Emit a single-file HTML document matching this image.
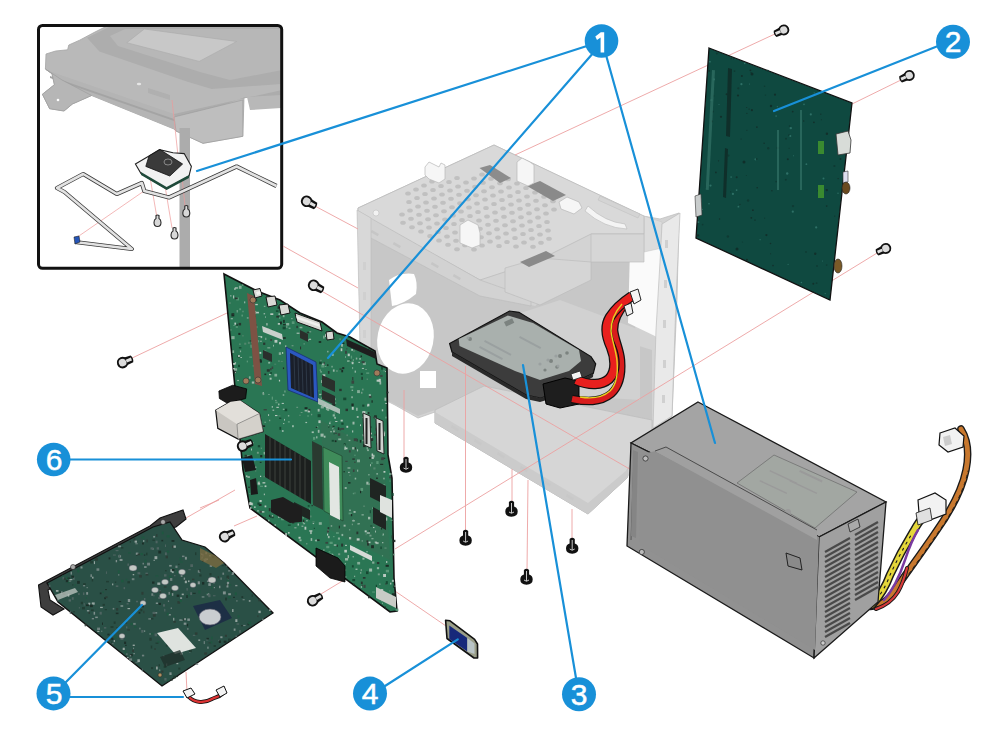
<!DOCTYPE html>
<html><head><meta charset="utf-8">
<style>
html,body{margin:0;padding:0;background:#fff;width:1002px;height:749px;overflow:hidden}
svg{display:block}
.num{font-family:"Liberation Sans",sans-serif;font-size:30px;fill:#fff;stroke:#fff;stroke-width:0.5;text-anchor:middle}
</style></head>
<body>
<svg width="1002" height="749" viewBox="0 0 1002 749">
<rect width="1002" height="749" fill="#fff"/>



<!-- INSET -->
<g id="inset">
<clipPath id="insclip"><rect x="40" y="27" width="241" height="240"/></clipPath>
<g clip-path="url(#insclip)">
<!-- printer body -->
<polygon points="46,54 55.6,51 67.6,49.8 68.8,45 79.6,40.2 95,32 107,26 282,26 282,96.4 244,97.6 242.8,136.3 203,143.3 176,131 174,129 91.6,95.5 72.4,104 64,111 49.6,108.7 42.4,94.3 54.4,84.7 52,73.8 45.4,69" fill="#b9b9b9" stroke="#a5a5a5" stroke-width="0.8"/>
<!-- frame around screen -->
<polygon points="87,37.7 109,27 282,27 282,84 211.7,89 186.7,81.4 99.4,51.4" fill="#adadad"/>
<polygon points="110,36 125,29 282,29 282,70 230,80 200,72 118,46" fill="#b7b7b7"/>
<polygon points="126.8,42.7 144.3,29 236.6,41.5 199.2,61.4" fill="#c8c8c8" stroke="#aaaaaa" stroke-width="0.6"/>
<!-- slab front -->
<polygon points="46,70 174,114 174,129 91.6,95.5 72.4,104 64,111 49.6,108.7 42.4,94.3 54.4,84.7 52,73.8" fill="#b4b4b4"/>
<polygon points="50,76 174,119 174,121 50,78" fill="#a4a4a4"/>
<polygon points="174,114 282,90 282,96.4 244,97.6 176,122" fill="#acacac"/>
<!-- front right block -->
<polygon points="174,117 242.8,100 242.8,136.3 203,143.3 176,131" fill="#bebebe" stroke="#9a9a9a" stroke-width="0.6"/>
<polygon points="247,97 282,95 282,108 250,110" fill="#b8b8b8"/>
<!-- bracket left -->
<polygon points="45.4,69 62,80 91.6,95.5 72.4,104 64,111 49.6,108.7 42.4,94.3 54.4,84.7 52,73.8" fill="#b6b6b6" stroke="#9a9a9a" stroke-width="0.6"/>
<circle cx="58" cy="100" r="1.3" fill="#fff"/>
<ellipse cx="139" cy="84" rx="2.2" ry="1.2" fill="#e6e6e6"/>
<polygon points="148,88 170,95 170,100 148,93" fill="#b0b0b0"/>
<!-- pole -->
<rect x="179.5" y="128" width="10.5" height="140" fill="#acacac"/>
<!-- red guide lines inside inset -->
<g stroke="#e99" stroke-width="0.7" fill="none">
<line x1="172" y1="100" x2="179" y2="165"/>
<line x1="144" y1="191" x2="76" y2="238"/>
<line x1="150.5" y1="180" x2="156.5" y2="215"/>
<line x1="165.5" y1="189" x2="172" y2="228"/>
<line x1="181.7" y1="174" x2="185" y2="206"/>
</g>
<!-- flex cable -->
<g fill="none" stroke-linejoin="round">
<path d="M276.5,186 L236.6,166.5 L169,197.5 L144.3,191 L141.8,183 L116.8,194 L83.2,174 L57,188 L64.4,192 L131.8,249 L75,242" stroke="#3a3a3a" stroke-width="4.2"/>
<path d="M276.5,186 L236.6,166.5 L169,197.5 L144.3,191 L141.8,183 L116.8,194 L83.2,174 L57,188 L64.4,192 L131.8,249 L75,242" stroke="#e2e2e2" stroke-width="2.6"/>
</g>
<polygon points="74,237 79,236 80,242 75,244" fill="#2454b8" stroke="#222" stroke-width="0.6"/>
<!-- module -->
<polygon points="135.4,164 149,156 159.4,149.6 173,152.8 184.2,153.6 191.4,166.4 189,176 166.6,188.8 141,173.6" fill="#f2f2f2" stroke="#222" stroke-width="1.1"/>
<polygon points="141,172 166.6,187 189,175 189,178 166.6,190 141,175" fill="#1f4a3a"/>
<polygon points="149,156 160,149.6 182.6,164 169.8,176 145.8,166.4" fill="#3a3a3a" stroke="#111" stroke-width="0.8"/>
<ellipse cx="168" cy="162" rx="4" ry="3" fill="none" stroke="#aaa" stroke-width="0.7"/>
<!-- screws -->
<g fill="#d8d8d8" stroke="#2a2a2a" stroke-width="1.1">
<path d="M156,215.5 Q157.5,214.5 159,215.5 L159,218.5 Q161,219.5 161,222.5 Q161,226.5 157.5,226.5 Q154,226.5 154,222.5 Q154,219.5 156,218.5 Z"/>
<path d="M173,228 Q174.5,227 176,228 L176,231 Q178,232 178,235 Q178,239 174.5,239 Q171,239 171,235 Q171,232 173,231 Z"/>
<path d="M184.8,206 Q186.3,205 187.8,206 L187.8,209 Q189.8,210 189.8,213 Q189.8,217 186.3,217 Q182.8,217 182.8,213 Q182.8,210 184.8,209 Z"/>
</g>
</g>
<rect x="38.5" y="25.5" width="243.2" height="242.8" rx="4" fill="none" stroke="#111" stroke-width="3"/>
</g>

<!-- CHASSIS -->
<g id="chassis">
<polygon points="358,208 494,145 643,216 660,219 679,213 677,300 672,416 652,430 627,478 588,514 435,423 435,412 418,418 395,405 375,395 361,390" fill="#d3d3d3" stroke="#c0c0c0" stroke-width="0.8"/>
<!-- back wall -->
<polygon points="371,238 480,294 535,306 591,262 632,245 636,345 652,350 652,420 484,386 435,410 418,416 371,392" fill="#c7c7c7"/>
<polygon points="470,330 560,300 640,330 640,400 560,395 480,370" fill="#d1d1d1"/>
<!-- holes -->
<ellipse cx="405.5" cy="338.5" rx="28" ry="35.5" transform="rotate(12 405.5 338.5)" fill="#fff"/>
<path d="M389,280 Q400,272 414,274 Q418,282 416,294 Q404,304 392,306 Z" fill="#fff"/>
<rect x="420" y="371" width="16" height="17" fill="#fff"/>
<polygon points="630,250 661,244 659,338 628,323" fill="#fafafa"/>
<polygon points="644,216 662,222 662,248 644,252" fill="#dcdcdc" stroke="#c4c4c4" stroke-width="0.5"/>
<!-- top plate -->
<polygon points="358,208 494,145 644,216 644,234 591,234 535,262 480,280 358,212" fill="#d9d9d9" stroke="#bdbdbd" stroke-width="0.8"/>
<!-- front face strip -->
<polygon points="358,211 480,280 531,298 531,306 480,296 371,238 358,224" fill="#d2d2d2" stroke="#bababa" stroke-width="0.6"/>
<g fill="#c6c6c6">
<rect x="372" y="230" width="8" height="2.5" transform="rotate(30 372 230)"/>
<rect x="394" y="242" width="8" height="2.5" transform="rotate(30 394 242)"/>
<rect x="432" y="262" width="8" height="2.5" transform="rotate(30 432 262)"/>
<rect x="454" y="274" width="8" height="2.5" transform="rotate(30 454 274)"/>
</g>
<!-- cage blocks -->
<polygon points="591,234 644,234 644,262 591,262" fill="#d6d6d6" stroke="#b8b8b8" stroke-width="0.6"/>
<polygon points="505,268 540,258 591,262 591,280 540,305 505,292" fill="#d5d5d5" stroke="#b8b8b8" stroke-width="0.6"/>
<!-- left panel -->
<polygon points="357,210 371,218 371,392 361,390" fill="#d8d8d8" stroke="#bdbdbd" stroke-width="0.6"/>
<g fill="#d0d0d0"><rect x="363" y="262" width="3" height="8"/><rect x="363" y="292" width="3" height="8"/><rect x="363" y="330" width="3" height="8"/><rect x="363" y="360" width="3" height="8"/></g>
<!-- right panel -->
<polygon points="662,224 680,213 676,300 672,416 653,428 656,330 660,262" fill="#e9e9e9" stroke="#bdbdbd" stroke-width="0.7"/>
<g fill="#d0d0d0"><rect x="665" y="240" width="3" height="8"/><rect x="664" y="280" width="3" height="8"/><rect x="663" y="320" width="3" height="8"/><rect x="663" y="360" width="3" height="8"/><rect x="662" y="395" width="3" height="8"/></g>
<!-- base tray -->
<polygon points="435,410 484,386 652,420 652,432 627,470 627,478 588,514 435,423" fill="#d6d6d6" stroke="#bdbdbd" stroke-width="0.8"/>
<polygon points="435,423 588,514 627,478 627,470 588,503 435,412" fill="#cbcbcb"/>
<g fill="#c8c8c8">
<rect x="452" y="425" width="8" height="2.5" transform="rotate(31 452 425)"/>
<rect x="475" y="439" width="8" height="2.5" transform="rotate(31 475 439)"/>
<rect x="498" y="452" width="8" height="2.5" transform="rotate(31 498 452)"/>
<rect x="521" y="466" width="8" height="2.5" transform="rotate(31 521 466)"/>
<rect x="544" y="480" width="8" height="2.5" transform="rotate(31 544 480)"/>
<rect x="567" y="494" width="8" height="2.5" transform="rotate(31 567 494)"/>
</g>
<!-- vent holes on top plate -->
<g fill="#c0c0c0">
<ellipse cx="408.0" cy="193.6" rx="2.8" ry="2.0"/>
<ellipse cx="416.0" cy="189.6" rx="2.8" ry="2.0"/>
<ellipse cx="424.0" cy="185.6" rx="2.8" ry="2.0"/>
<ellipse cx="432.0" cy="181.6" rx="2.8" ry="2.0"/>
<ellipse cx="440.0" cy="177.6" rx="2.8" ry="2.0"/>
<ellipse cx="409.0" cy="202.0" rx="2.8" ry="2.0"/>
<ellipse cx="417.0" cy="198.0" rx="2.8" ry="2.0"/>
<ellipse cx="425.0" cy="194.0" rx="2.8" ry="2.0"/>
<ellipse cx="433.0" cy="190.0" rx="2.8" ry="2.0"/>
<ellipse cx="441.0" cy="186.0" rx="2.8" ry="2.0"/>
<ellipse cx="449.0" cy="182.0" rx="2.8" ry="2.0"/>
<ellipse cx="457.0" cy="178.0" rx="2.8" ry="2.0"/>
<ellipse cx="402.0" cy="214.4" rx="2.8" ry="2.0"/>
<ellipse cx="410.0" cy="210.4" rx="2.8" ry="2.0"/>
<ellipse cx="418.0" cy="206.4" rx="2.8" ry="2.0"/>
<ellipse cx="426.0" cy="202.4" rx="2.8" ry="2.0"/>
<ellipse cx="434.0" cy="198.4" rx="2.8" ry="2.0"/>
<ellipse cx="442.0" cy="194.4" rx="2.8" ry="2.0"/>
<ellipse cx="450.0" cy="190.4" rx="2.8" ry="2.0"/>
<ellipse cx="458.0" cy="186.4" rx="2.8" ry="2.0"/>
<ellipse cx="466.0" cy="182.4" rx="2.8" ry="2.0"/>
<ellipse cx="474.0" cy="178.4" rx="2.8" ry="2.0"/>
<ellipse cx="482.0" cy="174.4" rx="2.8" ry="2.0"/>
<ellipse cx="403.0" cy="222.8" rx="2.8" ry="2.0"/>
<ellipse cx="411.0" cy="218.8" rx="2.8" ry="2.0"/>
<ellipse cx="419.0" cy="214.8" rx="2.8" ry="2.0"/>
<ellipse cx="427.0" cy="210.8" rx="2.8" ry="2.0"/>
<ellipse cx="435.0" cy="206.8" rx="2.8" ry="2.0"/>
<ellipse cx="443.0" cy="202.8" rx="2.8" ry="2.0"/>
<ellipse cx="451.0" cy="198.8" rx="2.8" ry="2.0"/>
<ellipse cx="459.0" cy="194.8" rx="2.8" ry="2.0"/>
<ellipse cx="467.0" cy="190.8" rx="2.8" ry="2.0"/>
<ellipse cx="475.0" cy="186.8" rx="2.8" ry="2.0"/>
<ellipse cx="483.0" cy="182.8" rx="2.8" ry="2.0"/>
<ellipse cx="491.0" cy="178.8" rx="2.8" ry="2.0"/>
<ellipse cx="499.0" cy="174.8" rx="2.8" ry="2.0"/>
<ellipse cx="412.0" cy="227.2" rx="2.8" ry="2.0"/>
<ellipse cx="420.0" cy="223.2" rx="2.8" ry="2.0"/>
<ellipse cx="428.0" cy="219.2" rx="2.8" ry="2.0"/>
<ellipse cx="436.0" cy="215.2" rx="2.8" ry="2.0"/>
<ellipse cx="444.0" cy="211.2" rx="2.8" ry="2.0"/>
<ellipse cx="452.0" cy="207.2" rx="2.8" ry="2.0"/>
<ellipse cx="460.0" cy="203.2" rx="2.8" ry="2.0"/>
<ellipse cx="468.0" cy="199.2" rx="2.8" ry="2.0"/>
<ellipse cx="476.0" cy="195.2" rx="2.8" ry="2.0"/>
<ellipse cx="484.0" cy="191.2" rx="2.8" ry="2.0"/>
<ellipse cx="492.0" cy="187.2" rx="2.8" ry="2.0"/>
<ellipse cx="500.0" cy="183.2" rx="2.8" ry="2.0"/>
<ellipse cx="508.0" cy="179.2" rx="2.8" ry="2.0"/>
<ellipse cx="421.0" cy="231.6" rx="2.8" ry="2.0"/>
<ellipse cx="429.0" cy="227.6" rx="2.8" ry="2.0"/>
<ellipse cx="437.0" cy="223.6" rx="2.8" ry="2.0"/>
<ellipse cx="445.0" cy="219.6" rx="2.8" ry="2.0"/>
<ellipse cx="453.0" cy="215.6" rx="2.8" ry="2.0"/>
<ellipse cx="461.0" cy="211.6" rx="2.8" ry="2.0"/>
<ellipse cx="469.0" cy="207.6" rx="2.8" ry="2.0"/>
<ellipse cx="477.0" cy="203.6" rx="2.8" ry="2.0"/>
<ellipse cx="485.0" cy="199.6" rx="2.8" ry="2.0"/>
<ellipse cx="493.0" cy="195.6" rx="2.8" ry="2.0"/>
<ellipse cx="501.0" cy="191.6" rx="2.8" ry="2.0"/>
<ellipse cx="509.0" cy="187.6" rx="2.8" ry="2.0"/>
<ellipse cx="517.0" cy="183.6" rx="2.8" ry="2.0"/>
<ellipse cx="430.0" cy="236.0" rx="2.8" ry="2.0"/>
<ellipse cx="438.0" cy="232.0" rx="2.8" ry="2.0"/>
<ellipse cx="446.0" cy="228.0" rx="2.8" ry="2.0"/>
<ellipse cx="454.0" cy="224.0" rx="2.8" ry="2.0"/>
<ellipse cx="462.0" cy="220.0" rx="2.8" ry="2.0"/>
<ellipse cx="470.0" cy="216.0" rx="2.8" ry="2.0"/>
<ellipse cx="478.0" cy="212.0" rx="2.8" ry="2.0"/>
<ellipse cx="486.0" cy="208.0" rx="2.8" ry="2.0"/>
<ellipse cx="494.0" cy="204.0" rx="2.8" ry="2.0"/>
<ellipse cx="502.0" cy="200.0" rx="2.8" ry="2.0"/>
<ellipse cx="510.0" cy="196.0" rx="2.8" ry="2.0"/>
<ellipse cx="518.0" cy="192.0" rx="2.8" ry="2.0"/>
<ellipse cx="526.0" cy="188.0" rx="2.8" ry="2.0"/>
<ellipse cx="439.0" cy="240.4" rx="2.8" ry="2.0"/>
<ellipse cx="447.0" cy="236.4" rx="2.8" ry="2.0"/>
<ellipse cx="455.0" cy="232.4" rx="2.8" ry="2.0"/>
<ellipse cx="463.0" cy="228.4" rx="2.8" ry="2.0"/>
<ellipse cx="471.0" cy="224.4" rx="2.8" ry="2.0"/>
<ellipse cx="479.0" cy="220.4" rx="2.8" ry="2.0"/>
<ellipse cx="487.0" cy="216.4" rx="2.8" ry="2.0"/>
<ellipse cx="495.0" cy="212.4" rx="2.8" ry="2.0"/>
<ellipse cx="503.0" cy="208.4" rx="2.8" ry="2.0"/>
<ellipse cx="511.0" cy="204.4" rx="2.8" ry="2.0"/>
<ellipse cx="519.0" cy="200.4" rx="2.8" ry="2.0"/>
<ellipse cx="527.0" cy="196.4" rx="2.8" ry="2.0"/>
<ellipse cx="535.0" cy="192.4" rx="2.8" ry="2.0"/>
<ellipse cx="448.0" cy="244.8" rx="2.8" ry="2.0"/>
<ellipse cx="456.0" cy="240.8" rx="2.8" ry="2.0"/>
<ellipse cx="464.0" cy="236.8" rx="2.8" ry="2.0"/>
<ellipse cx="472.0" cy="232.8" rx="2.8" ry="2.0"/>
<ellipse cx="480.0" cy="228.8" rx="2.8" ry="2.0"/>
<ellipse cx="488.0" cy="224.8" rx="2.8" ry="2.0"/>
<ellipse cx="496.0" cy="220.8" rx="2.8" ry="2.0"/>
<ellipse cx="504.0" cy="216.8" rx="2.8" ry="2.0"/>
<ellipse cx="512.0" cy="212.8" rx="2.8" ry="2.0"/>
<ellipse cx="520.0" cy="208.8" rx="2.8" ry="2.0"/>
<ellipse cx="528.0" cy="204.8" rx="2.8" ry="2.0"/>
<ellipse cx="536.0" cy="200.8" rx="2.8" ry="2.0"/>
<ellipse cx="544.0" cy="196.8" rx="2.8" ry="2.0"/>
<ellipse cx="457.0" cy="249.2" rx="2.8" ry="2.0"/>
<ellipse cx="465.0" cy="245.2" rx="2.8" ry="2.0"/>
<ellipse cx="473.0" cy="241.2" rx="2.8" ry="2.0"/>
<ellipse cx="481.0" cy="237.2" rx="2.8" ry="2.0"/>
<ellipse cx="489.0" cy="233.2" rx="2.8" ry="2.0"/>
<ellipse cx="497.0" cy="229.2" rx="2.8" ry="2.0"/>
<ellipse cx="505.0" cy="225.2" rx="2.8" ry="2.0"/>
<ellipse cx="513.0" cy="221.2" rx="2.8" ry="2.0"/>
<ellipse cx="521.0" cy="217.2" rx="2.8" ry="2.0"/>
<ellipse cx="529.0" cy="213.2" rx="2.8" ry="2.0"/>
<ellipse cx="537.0" cy="209.2" rx="2.8" ry="2.0"/>
<ellipse cx="545.0" cy="205.2" rx="2.8" ry="2.0"/>
<ellipse cx="553.0" cy="201.2" rx="2.8" ry="2.0"/>
<ellipse cx="474.0" cy="249.6" rx="2.8" ry="2.0"/>
<ellipse cx="482.0" cy="245.6" rx="2.8" ry="2.0"/>
<ellipse cx="490.0" cy="241.6" rx="2.8" ry="2.0"/>
<ellipse cx="498.0" cy="237.6" rx="2.8" ry="2.0"/>
<ellipse cx="506.0" cy="233.6" rx="2.8" ry="2.0"/>
<ellipse cx="514.0" cy="229.6" rx="2.8" ry="2.0"/>
<ellipse cx="522.0" cy="225.6" rx="2.8" ry="2.0"/>
<ellipse cx="530.0" cy="221.6" rx="2.8" ry="2.0"/>
<ellipse cx="538.0" cy="217.6" rx="2.8" ry="2.0"/>
<ellipse cx="546.0" cy="213.6" rx="2.8" ry="2.0"/>
<ellipse cx="554.0" cy="209.6" rx="2.8" ry="2.0"/>
<ellipse cx="499.0" cy="246.0" rx="2.8" ry="2.0"/>
<ellipse cx="507.0" cy="242.0" rx="2.8" ry="2.0"/>
<ellipse cx="515.0" cy="238.0" rx="2.8" ry="2.0"/>
<ellipse cx="523.0" cy="234.0" rx="2.8" ry="2.0"/>
<ellipse cx="531.0" cy="230.0" rx="2.8" ry="2.0"/>
<ellipse cx="539.0" cy="226.0" rx="2.8" ry="2.0"/>
<ellipse cx="547.0" cy="222.0" rx="2.8" ry="2.0"/>
<ellipse cx="516.0" cy="246.4" rx="2.8" ry="2.0"/>
<ellipse cx="524.0" cy="242.4" rx="2.8" ry="2.0"/>
<ellipse cx="532.0" cy="238.4" rx="2.8" ry="2.0"/>
<ellipse cx="540.0" cy="234.4" rx="2.8" ry="2.0"/>
<ellipse cx="548.0" cy="230.4" rx="2.8" ry="2.0"/>
<ellipse cx="533.0" cy="246.8" rx="2.8" ry="2.0"/>
<ellipse cx="541.0" cy="242.8" rx="2.8" ry="2.0"/>
<ellipse cx="549.0" cy="238.8" rx="2.8" ry="2.0"/>
</g>
<!-- dark slots -->
<polygon points="479.5,168 490,165 511,178 500,183" fill="#8c8c8c"/>
<polygon points="527,186 540,181 566,195 553,201" fill="#8a8a8a"/>
<polygon points="520,262 546,251 555,256 529,267" fill="#8a8a8a"/>
<path d="M588,206 Q605,222 625,224 L627,229 Q604,228 585,211 Z" fill="#f4f4f4" stroke="#b8b8b8" stroke-width="0.6"/>
<polygon points="600,196 640,214 638,218 598,200" fill="#d4d4d4" stroke="#bcbcbc" stroke-width="0.5"/>
<!-- clips -->
<g fill="#f6f6f6" stroke="#b8b8b8" stroke-width="0.7">
<path d="M425,167 l4,-5 l10,5 l2,-4 l4,2 l0,14 l-6,4 l-10,-4 l-4,-4z"/>
<path d="M517,162 l5,-4 l8,4 l4,3 l0,18 l-6,3 l-11,-5z"/>
<path d="M460,225 l8,-5 l10,5 l2,8 l0,12 l-8,3 l-12,-5z"/>
<path d="M559,202 l8,-5 l12,5 l3,6 l-8,6 l-13,-5z"/>
</g>
<circle cx="376" cy="213" r="3" fill="#f2f2f2" stroke="#c0c0c0" stroke-width="0.6"/>
</g>

<!-- red guide lines -->
<g id="red" stroke="#eca0a0" stroke-width="0.9" fill="none">
<line x1="777" y1="33" x2="515" y2="155"/>
<line x1="905" y1="78" x2="850" y2="105"/>
<line x1="882" y1="250" x2="395" y2="549"/>
<line x1="313" y1="205" x2="358" y2="229"/>
<line x1="283" y1="246" x2="358" y2="288"/>
<line x1="318" y1="289" x2="640" y2="475"/>
<line x1="130" y1="359" x2="227" y2="313"/>
<line x1="404" y1="390" x2="404" y2="460"/>
<line x1="465.5" y1="366" x2="465.5" y2="530"/>
<line x1="512" y1="469" x2="512" y2="503"/>
<line x1="528" y1="480" x2="527" y2="571"/>
<line x1="572" y1="509" x2="572" y2="541"/>
<line x1="186" y1="518" x2="235" y2="490"/>
<line x1="234" y1="526" x2="257" y2="516"/>
<line x1="200" y1="508" x2="219" y2="500"/>
<line x1="321" y1="594" x2="344" y2="580"/>
<line x1="392" y1="589" x2="446" y2="626"/>
<line x1="186" y1="672" x2="187" y2="692"/>
</g>
<!-- HDD -->
<g id="hdd">
<polygon points="449.6,343.5 509.5,311 519,312.3 591,356.6 595.7,363.8 593.3,373.4 579,380 560,392 540.6,398 526,395 452,352" fill="#3c3c3c" stroke="#111" stroke-width="1.2"/>
<polygon points="458.7,339 507.9,315.5 533,323 579,350 581,361 569,371 540,380 515,371 459.5,346" fill="#a9b0ad"/>
<g fill="#7c8380"><rect x="504" y="322" width="9" height="5" transform="rotate(-25 504 322)"/><circle cx="470" cy="339" r="2"/><circle cx="551" cy="361" r="2"/><circle cx="560" cy="356" r="2"/><circle cx="567" cy="353" r="1.8"/><circle cx="545" cy="370" r="1.6"/><circle cx="557" cy="367" r="1.8"/></g>
<polygon points="452,352 526,395 540.6,398 560,392 579,380 593.3,373.4 593,377 560,396 540,402 526,399 452,356" fill="#2a2a2a"/>

<g fill="#9aa0a0">
<circle cx="468" cy="338" r="1.5"/><circle cx="540" cy="364" r="1.6"/><circle cx="548" cy="360" r="1.6"/><circle cx="556" cy="356" r="1.6"/><circle cx="558" cy="366" r="1.5"/>
<rect x="485" y="340" width="30" height="2" transform="rotate(28 485 340)"/>
<rect x="480" y="346" width="26" height="2" transform="rotate(28 480 346)"/>
<rect x="520" y="336" width="24" height="2" transform="rotate(28 520 336)"/>
</g>
<polygon points="543,384 565,378 579,381 579,404 560,408 546,404" fill="#1e1e1e" stroke="#000" stroke-width="1"/>
</g>
<!-- SATA cables -->
<g fill="none" stroke-linecap="butt" stroke-linejoin="round">
<path d="M572,399 C586,402 600,403 611,394 C620,386 622,372 621,360 C620,349 615,340 614,330 C614,320 618,312 626,303" stroke="#111" stroke-width="8.5"/>
<path d="M572,399 C586,402 600,403 611,394 C620,386 622,372 621,360 C620,349 615,340 614,330 C614,320 618,312 626,303" stroke="#d81c1c" stroke-width="6"/>
<path d="M576,380 C590,386 602,385 609,379 C617,371 615,357 611,347 C606,336 605,325 610,317 C615,309 623,302 632,296" stroke="#111" stroke-width="10.5"/>
<path d="M576,380 C590,386 602,385 609,379 C617,371 615,357 611,347 C606,336 605,325 610,317 C615,309 623,302 632,296" stroke="#e8201e" stroke-width="8"/>
<path d="M580,397 C592,399 602,398 610,391 C617,384 618,372 617,361 C616,350 612,341 611,331 C611,321 614,313 622,304" stroke="#e8d020" stroke-width="1.4"/>
</g>
<polygon points="630,292 638,289 641,300 634,304" fill="#f4f4f4" stroke="#222" stroke-width="1"/>
<polygon points="624,306 631,303 633,313 627,316" fill="#f0f0f0" stroke="#222" stroke-width="1"/>
<polygon points="571,374 580,371 582,377 573,380" fill="#f4f4f4" stroke="#222" stroke-width="0.8"/>

<!-- BOARD 2 -->
<g id="board2">
<polygon points="709,48 852,103 830,300 696,238" fill="#0f4940" stroke="#111" stroke-width="1.3"/>
<g><circle cx="793.5" cy="155.7" r="0.5" fill="#2e7066"/><circle cx="716.9" cy="53.4" r="1.0" fill="#0f3a33"/><circle cx="766.4" cy="235.1" r="1.1" fill="#12302b"/><circle cx="816.2" cy="227.4" r="1.1" fill="#2e7066"/><circle cx="813.9" cy="122.3" r="0.9" fill="#12302b"/><circle cx="699.3" cy="211.7" r="1.1" fill="#0f3a33"/><circle cx="756.9" cy="127.1" r="0.9" fill="#12302b"/><circle cx="790.8" cy="128.1" r="1.2" fill="#2e7066"/><circle cx="764.6" cy="218.2" r="0.6" fill="#0f3a33"/><circle cx="752.9" cy="210.2" r="0.9" fill="#12302b"/><circle cx="770.5" cy="243.5" r="0.8" fill="#12302b"/><circle cx="817.8" cy="190.7" r="0.7" fill="#0f3a33"/><circle cx="792.8" cy="211.7" r="1.1" fill="#2e7066"/><circle cx="748.1" cy="200.5" r="1.2" fill="#0f3a33"/><circle cx="789.6" cy="126.1" r="0.8" fill="#0f3a33"/><circle cx="755.0" cy="220.2" r="0.9" fill="#0f3a33"/><circle cx="821.4" cy="119.8" r="0.5" fill="#12302b"/><circle cx="738.3" cy="88.3" r="1.1" fill="#0f3a33"/><circle cx="741.4" cy="84.2" r="1.1" fill="#2e7066"/><circle cx="819.8" cy="186.0" r="1.0" fill="#12302b"/><circle cx="750.4" cy="70.3" r="0.9" fill="#12302b"/><circle cx="727.9" cy="236.5" r="1.2" fill="#0f3a33"/><circle cx="744.7" cy="63.4" r="0.8" fill="#2e7066"/><circle cx="728.8" cy="112.7" r="1.0" fill="#12302b"/><circle cx="767.8" cy="70.9" r="1.1" fill="#0f3a33"/><circle cx="732.9" cy="193.9" r="1.1" fill="#2e7066"/><circle cx="746.4" cy="175.5" r="0.6" fill="#0f3a33"/><circle cx="726.6" cy="94.2" r="1.0" fill="#12302b"/><circle cx="786.0" cy="138.7" r="1.0" fill="#0f3a33"/><circle cx="773.0" cy="265.6" r="0.8" fill="#12302b"/><circle cx="789.0" cy="135.2" r="0.9" fill="#0f3a33"/><circle cx="711.5" cy="100.2" r="1.1" fill="#2e7066"/><circle cx="771.9" cy="190.8" r="0.7" fill="#12302b"/><circle cx="815.2" cy="253.7" r="1.2" fill="#12302b"/><circle cx="826.9" cy="133.7" r="1.2" fill="#12302b"/><circle cx="709.9" cy="61.7" r="0.9" fill="#2e7066"/><circle cx="789.1" cy="148.3" r="0.6" fill="#0f3a33"/><circle cx="736.6" cy="190.1" r="0.9" fill="#2e7066"/><circle cx="775.0" cy="94.7" r="1.1" fill="#12302b"/><circle cx="731.1" cy="58.7" r="0.7" fill="#12302b"/><circle cx="706.1" cy="187.2" r="0.5" fill="#0f3a33"/><circle cx="736.7" cy="177.3" r="1.0" fill="#12302b"/><circle cx="813.3" cy="283.8" r="1.0" fill="#12302b"/><circle cx="787.8" cy="159.3" r="1.0" fill="#12302b"/><circle cx="746.9" cy="113.3" r="0.6" fill="#12302b"/><circle cx="755.5" cy="159.3" r="1.1" fill="#2e7066"/><circle cx="834.4" cy="166.0" r="1.1" fill="#0f3a33"/><circle cx="709.0" cy="203.7" r="0.8" fill="#2e7066"/><circle cx="718.5" cy="160.8" r="0.6" fill="#12302b"/><circle cx="826.7" cy="206.1" r="0.8" fill="#12302b"/><circle cx="746.7" cy="107.5" r="0.6" fill="#12302b"/><circle cx="719.0" cy="104.4" r="0.5" fill="#2e7066"/><circle cx="764.6" cy="86.3" r="0.8" fill="#0f3a33"/><circle cx="721.0" cy="116.8" r="1.1" fill="#12302b"/><circle cx="820.8" cy="114.2" r="0.6" fill="#12302b"/><circle cx="834.8" cy="216.1" r="0.6" fill="#12302b"/><circle cx="813.2" cy="291.7" r="0.8" fill="#12302b"/><circle cx="712.0" cy="121.4" r="1.1" fill="#0f3a33"/><circle cx="825.2" cy="293.6" r="0.6" fill="#2e7066"/><circle cx="749.5" cy="84.0" r="0.5" fill="#2e7066"/><circle cx="741.1" cy="139.0" r="0.5" fill="#12302b"/><circle cx="730.6" cy="191.8" r="0.6" fill="#0f3a33"/><circle cx="777.3" cy="106.6" r="0.6" fill="#2e7066"/><circle cx="709.2" cy="70.9" r="0.9" fill="#12302b"/><circle cx="814.2" cy="92.8" r="0.6" fill="#2e7066"/><circle cx="806.0" cy="251.9" r="0.9" fill="#0f3a33"/><circle cx="698.5" cy="222.1" r="0.9" fill="#2e7066"/><circle cx="838.1" cy="178.6" r="0.7" fill="#12302b"/><circle cx="826.7" cy="265.1" r="0.8" fill="#0f3a33"/><circle cx="760.1" cy="239.7" r="0.6" fill="#2e7066"/><circle cx="738.0" cy="95.5" r="1.1" fill="#12302b"/><circle cx="702.6" cy="224.6" r="0.9" fill="#0f3a33"/><circle cx="751.9" cy="110.2" r="1.1" fill="#12302b"/><circle cx="817.0" cy="266.0" r="0.9" fill="#0f3a33"/><circle cx="741.9" cy="75.9" r="1.0" fill="#12302b"/><circle cx="776.1" cy="181.6" r="0.9" fill="#0f3a33"/><circle cx="734.5" cy="71.1" r="0.9" fill="#0f3a33"/><circle cx="712.8" cy="111.6" r="1.1" fill="#0f3a33"/><circle cx="810.8" cy="114.4" r="1.1" fill="#2e7066"/><circle cx="785.8" cy="179.7" r="1.0" fill="#0f3a33"/><circle cx="751.0" cy="72.5" r="0.6" fill="#12302b"/><circle cx="715.9" cy="172.4" r="0.9" fill="#12302b"/><circle cx="713.9" cy="79.4" r="1.1" fill="#2e7066"/><circle cx="788.1" cy="264.3" r="0.6" fill="#2e7066"/><circle cx="768.2" cy="148.2" r="1.2" fill="#0f3a33"/><circle cx="841.4" cy="146.2" r="0.8" fill="#2e7066"/><circle cx="777.9" cy="147.9" r="1.2" fill="#12302b"/><circle cx="749.1" cy="109.1" r="0.7" fill="#12302b"/><circle cx="826.8" cy="190.1" r="1.2" fill="#12302b"/><circle cx="822.5" cy="260.9" r="0.5" fill="#2e7066"/><circle cx="719.6" cy="219.0" r="0.7" fill="#12302b"/><circle cx="713.8" cy="95.9" r="0.7" fill="#0f3a33"/><circle cx="816.6" cy="283.2" r="0.9" fill="#0f3a33"/><circle cx="702.3" cy="209.4" r="0.7" fill="#2e7066"/><circle cx="793.0" cy="206.1" r="1.1" fill="#0f3a33"/><circle cx="792.7" cy="111.6" r="0.9" fill="#12302b"/><circle cx="733.4" cy="58.9" r="0.6" fill="#12302b"/><circle cx="776.1" cy="116.1" r="0.8" fill="#2e7066"/><circle cx="840.5" cy="159.0" r="0.9" fill="#12302b"/><circle cx="838.0" cy="193.3" r="0.7" fill="#2e7066"/><circle cx="710.5" cy="185.6" r="1.1" fill="#2e7066"/><circle cx="804.0" cy="104.4" r="0.8" fill="#2e7066"/><circle cx="806.4" cy="164.2" r="0.9" fill="#2e7066"/><circle cx="770.6" cy="253.7" r="0.5" fill="#12302b"/><circle cx="731.1" cy="177.1" r="0.8" fill="#2e7066"/><circle cx="746.9" cy="130.4" r="0.7" fill="#0f3a33"/><circle cx="742.5" cy="242.0" r="0.6" fill="#0f3a33"/><circle cx="790.3" cy="136.0" r="1.0" fill="#2e7066"/><circle cx="756.7" cy="159.0" r="1.0" fill="#0f3a33"/><circle cx="801.4" cy="282.5" r="0.8" fill="#2e7066"/><circle cx="751.3" cy="217.8" r="0.9" fill="#12302b"/><circle cx="823.5" cy="178.4" r="1.0" fill="#2e7066"/><circle cx="738.4" cy="206.7" r="0.9" fill="#2e7066"/><circle cx="787.2" cy="173.5" r="1.2" fill="#2e7066"/><circle cx="740.0" cy="204.3" r="0.6" fill="#12302b"/><circle cx="803.7" cy="121.0" r="0.7" fill="#12302b"/><circle cx="757.2" cy="187.8" r="0.8" fill="#12302b"/><circle cx="698.0" cy="235.4" r="1.2" fill="#12302b"/><circle cx="765.4" cy="95.1" r="0.7" fill="#0f3a33"/><circle cx="764.1" cy="143.2" r="0.7" fill="#12302b"/><circle cx="746.9" cy="259.8" r="1.1" fill="#12302b"/><circle cx="728.5" cy="155.6" r="1.1" fill="#0f3a33"/></g>
<g fill="#0f2f2a">
<polygon points="728,68 732,69 730,137 726,136"/>
<polygon points="725,148 728,149 726,198 723,197"/>
<circle cx="752" cy="74" r="1.5"/><circle cx="744" cy="162" r="1.5"/><circle cx="737" cy="249" r="1.5"/><circle cx="771" cy="106" r="1.2"/>
</g>
<g fill="#2f6e62" opacity="0.8">
<rect x="712" y="70" width="3" height="120" transform="rotate(3 712 70)"/>
<rect x="777" y="130" width="2" height="60"/><rect x="800" y="110" width="2" height="80"/>
</g>
<polygon points="836,134 848,131 851,140 850,153 838,155" fill="#d8dcd8" stroke="#333" stroke-width="0.8"/>
<polygon points="843,172 848,171 848,182 843,183" fill="#dde" stroke="#333" stroke-width="0.6"/>
<ellipse cx="846" cy="188" rx="4" ry="6" fill="#6a4a20" stroke="#222" stroke-width="0.6"/>
<ellipse cx="838" cy="266" rx="4" ry="7" fill="#7a5a28" stroke="#222" stroke-width="0.6"/>
<rect x="818" y="141" width="6" height="13" fill="#3a8a30"/>
<rect x="818" y="185" width="6" height="13" fill="#3a8a30"/>
<polygon points="695,196 701,194 702,215 696,217" fill="#c8cccc" stroke="#333" stroke-width="0.6"/>
</g>

<!-- PSU -->
<g id="psu">
<!-- PSU cables (behind) -->
<g fill="none" stroke-linecap="round" stroke-linejoin="round">
<path d="M866,606 C878,608 888,601 895,590 C905,575 920,555 935,533 C950,512 962,490 966,470 C969,455 968,440 961,429" stroke="#1a1a1a" stroke-width="7.5"/>
<path d="M866,606 C878,608 888,601 895,590 C905,575 920,555 935,533 C950,512 962,490 966,470 C969,455 968,440 961,429" stroke="#c8782e" stroke-width="4.8"/>
<path d="M868,607 C880,609 890,602 897,591 C907,576 922,556 937,534 C952,513 964,491 968,471" stroke="#1a1a1a" stroke-width="1" stroke-dasharray="3 4"/>
<path d="M872,605 C880,596 886,586 890,575 C896,562 905,545 913,532 C917,525 920,520 924,516" stroke="#1a1a1a" stroke-width="8.5"/>
<path d="M872,605 C880,596 886,586 890,575 C896,562 905,545 913,532 C917,525 920,520 924,516" stroke="#e4d63a" stroke-width="5.5"/>
<path d="M872,605 C880,596 886,586 890,575 C896,562 905,545 913,532" stroke="#1a1a1a" stroke-width="1.1" stroke-dasharray="2 5"/>
<path d="M884,600 C893,590 900,575 905,560 C909,548 913,538 918,530" stroke="#7a3aa0" stroke-width="2.4"/>
<path d="M876,609 C885,606 893,600 898,592 C902,585 905,576 907,568" stroke="#1a1a1a" stroke-width="4"/>
<path d="M876,609 C885,606 893,600 898,592 C902,585 905,576 907,568" stroke="#d83a3a" stroke-width="2.2"/>
</g>
<polygon points="940,433 955,428 964,436 963,447 948,452 939,445" fill="#f2f2f2" stroke="#111" stroke-width="1.2"/>
<polygon points="943,437 950,435 952,444 945,446" fill="#ccc"/>
<polygon points="918,500 935,493 946,500 946,514 930,520 919,513" fill="#f2f2f2" stroke="#111" stroke-width="1.2"/>
<polygon points="916,513 930,508 932,520 918,525" fill="#e0e0e0" stroke="#111" stroke-width="0.8"/>

<polygon points="698,402 886,502 819,537 631,443" fill="#a4a4a4" stroke="#1a1a1a" stroke-width="1.3"/>
<polygon points="631,443 819,537 814,658 627,546" fill="#919191" stroke="#1a1a1a" stroke-width="1.3"/>
<polygon points="819,537 886,502 878,602 814,658" fill="#a0a0a0" stroke="#1a1a1a" stroke-width="1.3"/>
<!-- top label -->
<polygon points="737,483 774,455 857,492 815,528" fill="#a2a7a2" stroke="#6a6a6a" stroke-width="0.7"/>
<g fill="#9a9a9a">
<rect x="770" y="470" width="30" height="1.5" transform="rotate(25 770 470)"/>
<rect x="760" y="480" width="30" height="1.5" transform="rotate(25 760 480)"/>
<rect x="790" y="480" width="30" height="1.5" transform="rotate(25 790 480)"/>
<rect x="800" y="470" width="25" height="2" transform="rotate(25 800 470)"/>
<circle cx="788" cy="512" r="3"/>
</g>
<!-- front face inner panel -->
<polygon points="639,455 655,451 819,537 815,650 640,545" fill="#909090"/>
<polygon points="655,451 666,447 817,530 817,540" fill="#a0a0a0"/>
<path d="M655,451 L666,447 L817,530" stroke="#333" stroke-width="0.8" fill="none"/>
<line x1="634" y1="455" x2="631" y2="540" stroke="#555" stroke-width="1"/>
<polygon points="633,450 638,452 636,538 631,536" fill="#858585"/>
<circle cx="645.5" cy="458.5" r="2.6" fill="#bbb" stroke="#333" stroke-width="0.8"/>
<circle cx="641.8" cy="552" r="2.6" fill="#bbb" stroke="#333" stroke-width="0.8"/>
<polygon points="786,553 800,558 802,570 788,566" fill="#8a8a8a" stroke="#222" stroke-width="1"/>
<!-- side vents -->
<g stroke="#4a4a4a" stroke-width="2.3">
<line x1="825" y1="552" x2="850" y2="538"/><line x1="825" y1="557" x2="850" y2="543"/><line x1="825" y1="562" x2="850" y2="548"/><line x1="825" y1="567" x2="850" y2="553"/><line x1="825" y1="572" x2="850" y2="558"/><line x1="825" y1="577" x2="850" y2="563"/><line x1="825" y1="582" x2="850" y2="568"/><line x1="825" y1="587" x2="850" y2="573"/><line x1="825" y1="592" x2="850" y2="578"/><line x1="825" y1="597" x2="850" y2="583"/><line x1="825" y1="602" x2="850" y2="588"/><line x1="825" y1="607" x2="850" y2="593"/><line x1="825" y1="612" x2="850" y2="598"/><line x1="825" y1="617" x2="850" y2="603"/><line x1="825" y1="622" x2="850" y2="608"/><line x1="825" y1="627" x2="850" y2="613"/><line x1="825" y1="632" x2="850" y2="618"/><line x1="825" y1="637" x2="850" y2="623"/>
<line x1="855" y1="535" x2="878" y2="522"/><line x1="855" y1="540" x2="878" y2="527"/><line x1="855" y1="545" x2="878" y2="532"/><line x1="855" y1="550" x2="878" y2="537"/><line x1="855" y1="555" x2="878" y2="542"/><line x1="855" y1="560" x2="878" y2="547"/><line x1="855" y1="565" x2="878" y2="552"/><line x1="855" y1="570" x2="878" y2="557"/><line x1="855" y1="575" x2="878" y2="562"/><line x1="855" y1="580" x2="878" y2="567"/><line x1="855" y1="585" x2="878" y2="572"/><line x1="855" y1="590" x2="878" y2="577"/><line x1="855" y1="595" x2="878" y2="582"/><line x1="855" y1="600" x2="878" y2="587"/>
</g>
<polygon points="848,524 858,519 860,527 850,532" fill="#aaa" stroke="#222" stroke-width="0.8"/>
<circle cx="823" cy="643" r="2.2" fill="#ccc" stroke="#222" stroke-width="0.6"/>
</g>

<!-- MOTHERBOARD 6 -->
<g id="mb">
<polygon points="224,274 257,291 280,300 300,313 322,322 337,333 350,337 375,351 377,364 387,368 388,455 392,478 394,578 397,611 390,612 250,508 243,470" fill="#2a7654" stroke="#111" stroke-width="1.6"/>
<!-- shading patches -->

<polygon points="320,420 384,455 390,560 330,530" fill="#356f52" opacity="0.7"/>
<g opacity="0.9"><rect x="383.1" y="431.5" width="2.1" height="2.3" fill="#8fb3a0"/><rect x="362.7" y="434.9" width="2.4" height="1.4" fill="#c9d2cc"/><rect x="277.6" y="306.3" width="2.8" height="2.5" fill="#1a2520"/><rect x="327.2" y="408.3" width="2.0" height="2.6" fill="#8fb3a0"/><rect x="331.9" y="553.8" width="1.1" height="1.1" fill="#a8bfb2"/><rect x="327.9" y="535.9" width="1.7" height="2.3" fill="#a8bfb2"/><rect x="395.6" y="608.6" width="2.8" height="2.6" fill="#5e9c7c"/><rect x="354.9" y="447.3" width="1.1" height="2.2" fill="#27302c"/><rect x="333.0" y="536.0" width="1.6" height="1.2" fill="#5e9c7c"/><rect x="356.8" y="416.0" width="1.8" height="1.9" fill="#a8bfb2"/><rect x="233.2" y="324.9" width="2.0" height="1.0" fill="#5e9c7c"/><rect x="367.1" y="405.0" width="1.2" height="1.5" fill="#a8bfb2"/><rect x="325.8" y="554.0" width="1.3" height="1.8" fill="#8fb3a0"/><rect x="278.8" y="352.3" width="2.3" height="2.6" fill="#8fb3a0"/><rect x="376.0" y="477.6" width="1.9" height="1.2" fill="#1a2520"/><rect x="351.8" y="406.8" width="1.9" height="3.0" fill="#c9d2cc"/><rect x="275.9" y="334.6" width="2.6" height="1.2" fill="#a8bfb2"/><rect x="233.9" y="370.2" width="2.2" height="3.1" fill="#27302c"/><rect x="343.5" y="471.2" width="1.3" height="1.1" fill="#1a2520"/><rect x="237.4" y="379.9" width="1.3" height="1.2" fill="#c9d2cc"/><rect x="318.8" y="522.2" width="3.0" height="2.6" fill="#8fb3a0"/><rect x="360.9" y="581.6" width="1.8" height="2.5" fill="#27302c"/><rect x="374.1" y="415.3" width="2.7" height="2.9" fill="#1a2520"/><rect x="332.2" y="403.7" width="2.3" height="2.3" fill="#27302c"/><rect x="241.4" y="314.6" width="1.6" height="1.9" fill="#5e9c7c"/><rect x="292.0" y="521.5" width="2.3" height="2.0" fill="#27302c"/><rect x="338.2" y="438.4" width="3.0" height="1.8" fill="#8fb3a0"/><rect x="341.3" y="343.7" width="1.4" height="3.0" fill="#c9d2cc"/><rect x="333.8" y="544.4" width="2.7" height="1.4" fill="#a8bfb2"/><rect x="279.8" y="321.5" width="2.1" height="2.8" fill="#1a2520"/><rect x="273.1" y="332.5" width="2.0" height="1.6" fill="#a8bfb2"/><rect x="367.3" y="403.8" width="2.1" height="2.5" fill="#c9d2cc"/><rect x="341.3" y="369.9" width="1.8" height="2.4" fill="#1a2520"/><rect x="335.0" y="411.3" width="1.4" height="2.7" fill="#14442f"/><rect x="266.4" y="323.1" width="1.1" height="2.4" fill="#c9d2cc"/><rect x="244.5" y="454.8" width="2.4" height="1.8" fill="#27302c"/><rect x="342.4" y="342.6" width="2.0" height="1.4" fill="#1a2520"/><rect x="354.4" y="454.6" width="1.1" height="1.5" fill="#5e9c7c"/><rect x="345.0" y="350.8" width="1.9" height="3.0" fill="#3a403d"/><rect x="375.5" y="542.1" width="3.1" height="2.0" fill="#a8bfb2"/><rect x="361.7" y="584.7" width="1.3" height="1.5" fill="#3a403d"/><rect x="392.7" y="602.4" width="2.2" height="2.7" fill="#5e9c7c"/><rect x="270.5" y="515.9" width="1.0" height="2.1" fill="#1a2520"/><rect x="356.6" y="438.8" width="1.1" height="2.8" fill="#27302c"/><rect x="381.7" y="433.2" width="3.2" height="3.0" fill="#c9d2cc"/><rect x="263.6" y="451.9" width="1.6" height="2.6" fill="#8fb3a0"/><rect x="321.2" y="380.1" width="1.8" height="2.9" fill="#a8bfb2"/><rect x="277.8" y="323.1" width="2.2" height="1.6" fill="#c9d2cc"/><rect x="260.2" y="455.0" width="2.1" height="2.3" fill="#1a2520"/><rect x="382.0" y="457.7" width="3.2" height="1.3" fill="#27302c"/><rect x="317.6" y="414.2" width="3.1" height="3.0" fill="#14442f"/><rect x="385.1" y="583.3" width="2.2" height="1.2" fill="#3a403d"/><rect x="264.6" y="505.5" width="1.7" height="1.8" fill="#c9d2cc"/><rect x="246.9" y="446.5" width="1.6" height="1.4" fill="#3a403d"/><rect x="366.3" y="481.7" width="2.2" height="2.9" fill="#a8bfb2"/><rect x="330.0" y="562.2" width="1.5" height="2.6" fill="#5e9c7c"/><rect x="379.5" y="381.5" width="1.7" height="3.0" fill="#a8bfb2"/><rect x="248.5" y="305.4" width="1.9" height="2.0" fill="#3a403d"/><rect x="260.1" y="485.7" width="2.8" height="1.2" fill="#5e9c7c"/><rect x="380.9" y="599.4" width="1.3" height="2.1" fill="#5e9c7c"/><rect x="311.5" y="505.0" width="1.4" height="1.2" fill="#27302c"/><rect x="307.8" y="339.3" width="1.3" height="1.4" fill="#8fb3a0"/><rect x="394.4" y="585.6" width="1.2" height="1.1" fill="#c9d2cc"/><rect x="239.2" y="308.3" width="1.9" height="1.9" fill="#5e9c7c"/><rect x="303.2" y="522.9" width="1.9" height="1.4" fill="#8fb3a0"/><rect x="369.1" y="568.5" width="3.0" height="3.1" fill="#a8bfb2"/><rect x="362.8" y="362.3" width="3.0" height="2.6" fill="#8fb3a0"/><rect x="364.5" y="411.5" width="3.0" height="2.9" fill="#5e9c7c"/><rect x="356.4" y="531.6" width="1.9" height="2.6" fill="#27302c"/><rect x="361.5" y="376.8" width="1.2" height="3.0" fill="#1a2520"/><rect x="339.2" y="388.8" width="2.5" height="2.3" fill="#27302c"/><rect x="351.6" y="361.7" width="1.9" height="1.1" fill="#a8bfb2"/><rect x="270.0" y="368.1" width="1.7" height="2.2" fill="#3a403d"/><rect x="327.6" y="529.6" width="1.1" height="3.0" fill="#8fb3a0"/><rect x="371.5" y="457.0" width="2.3" height="1.9" fill="#c9d2cc"/><rect x="327.6" y="398.1" width="1.6" height="2.4" fill="#14442f"/><rect x="338.8" y="525.7" width="1.1" height="2.7" fill="#1a2520"/><rect x="333.6" y="412.5" width="2.5" height="1.1" fill="#5e9c7c"/><rect x="394.1" y="591.4" width="1.2" height="3.0" fill="#3a403d"/><rect x="348.3" y="359.8" width="2.7" height="1.1" fill="#27302c"/><rect x="385.3" y="517.4" width="2.0" height="3.2" fill="#a8bfb2"/><rect x="332.1" y="428.2" width="1.4" height="1.1" fill="#8fb3a0"/><rect x="339.5" y="428.2" width="1.6" height="2.3" fill="#3a403d"/><rect x="287.9" y="524.5" width="2.8" height="1.3" fill="#14442f"/><rect x="350.8" y="355.6" width="1.3" height="3.0" fill="#5e9c7c"/><rect x="349.3" y="509.5" width="1.4" height="1.6" fill="#a8bfb2"/><rect x="258.3" y="359.2" width="3.2" height="3.0" fill="#1a2520"/><rect x="232.5" y="350.3" width="1.6" height="2.7" fill="#8fb3a0"/><rect x="352.6" y="556.1" width="1.2" height="1.3" fill="#a8bfb2"/><rect x="301.5" y="525.6" width="1.9" height="1.3" fill="#8fb3a0"/><rect x="352.8" y="583.6" width="1.9" height="1.8" fill="#27302c"/><rect x="318.4" y="420.3" width="2.2" height="2.8" fill="#c9d2cc"/><rect x="238.9" y="347.2" width="2.5" height="1.2" fill="#14442f"/><rect x="310.1" y="531.2" width="1.7" height="2.9" fill="#a8bfb2"/><rect x="286.8" y="518.5" width="1.8" height="1.3" fill="#c9d2cc"/><rect x="385.8" y="581.1" width="2.0" height="2.8" fill="#14442f"/><rect x="390.5" y="519.7" width="2.1" height="1.2" fill="#5e9c7c"/><rect x="325.4" y="541.9" width="2.6" height="1.8" fill="#3a403d"/><rect x="317.9" y="555.3" width="2.2" height="1.4" fill="#c9d2cc"/><rect x="375.8" y="370.0" width="1.0" height="2.1" fill="#8fb3a0"/><rect x="336.7" y="544.6" width="1.1" height="2.2" fill="#27302c"/><rect x="282.9" y="367.4" width="1.2" height="1.7" fill="#1a2520"/><rect x="352.8" y="492.8" width="1.5" height="1.5" fill="#5e9c7c"/><rect x="356.0" y="407.7" width="1.7" height="3.1" fill="#8fb3a0"/><rect x="348.6" y="512.5" width="3.0" height="1.9" fill="#5e9c7c"/><rect x="371.1" y="545.2" width="2.8" height="3.0" fill="#1a2520"/><rect x="362.4" y="416.8" width="1.9" height="1.3" fill="#8fb3a0"/><rect x="254.5" y="344.3" width="1.9" height="1.6" fill="#1a2520"/><rect x="306.1" y="520.1" width="1.7" height="1.3" fill="#8fb3a0"/><rect x="381.1" y="527.5" width="1.0" height="2.1" fill="#1a2520"/><rect x="279.1" y="342.0" width="1.8" height="2.3" fill="#c9d2cc"/><rect x="327.1" y="350.8" width="1.4" height="1.6" fill="#8fb3a0"/><rect x="380.8" y="589.1" width="2.4" height="3.1" fill="#c9d2cc"/><rect x="371.1" y="437.9" width="1.9" height="3.1" fill="#27302c"/><rect x="362.2" y="404.6" width="2.2" height="2.1" fill="#14442f"/><rect x="383.1" y="574.0" width="2.9" height="3.0" fill="#c9d2cc"/><rect x="361.5" y="514.2" width="2.3" height="1.3" fill="#8fb3a0"/><rect x="380.4" y="546.5" width="1.3" height="2.6" fill="#14442f"/><rect x="323.2" y="335.6" width="1.4" height="3.0" fill="#8fb3a0"/><rect x="271.9" y="515.3" width="1.2" height="2.1" fill="#c9d2cc"/><rect x="258.8" y="503.9" width="2.7" height="2.0" fill="#1a2520"/><rect x="278.9" y="379.8" width="1.2" height="1.7" fill="#c9d2cc"/><rect x="238.6" y="322.9" width="2.5" height="2.5" fill="#27302c"/><rect x="290.1" y="513.1" width="1.5" height="2.2" fill="#c9d2cc"/><rect x="357.2" y="561.9" width="2.9" height="2.6" fill="#8fb3a0"/><rect x="275.4" y="401.6" width="2.2" height="1.7" fill="#5e9c7c"/><rect x="354.3" y="461.6" width="1.2" height="1.4" fill="#3a403d"/><rect x="350.3" y="386.0" width="3.1" height="2.2" fill="#5e9c7c"/><rect x="248.3" y="486.6" width="1.4" height="1.4" fill="#1a2520"/><rect x="368.3" y="474.0" width="1.2" height="1.5" fill="#8fb3a0"/><rect x="357.1" y="390.1" width="2.8" height="3.0" fill="#8fb3a0"/><rect x="336.0" y="532.1" width="2.8" height="1.8" fill="#5e9c7c"/><rect x="382.6" y="484.1" width="2.6" height="2.3" fill="#5e9c7c"/><rect x="392.9" y="539.8" width="2.5" height="2.3" fill="#1a2520"/><rect x="270.3" y="339.0" width="1.7" height="2.0" fill="#3a403d"/><rect x="275.9" y="310.3" width="2.6" height="1.6" fill="#14442f"/><rect x="319.2" y="393.8" width="2.1" height="1.3" fill="#a8bfb2"/><rect x="347.6" y="555.1" width="1.4" height="3.1" fill="#a8bfb2"/><rect x="307.2" y="415.4" width="1.7" height="1.2" fill="#5e9c7c"/><rect x="302.9" y="519.7" width="1.5" height="2.3" fill="#27302c"/><rect x="321.3" y="364.3" width="3.0" height="3.2" fill="#5e9c7c"/><rect x="366.2" y="372.4" width="3.0" height="1.5" fill="#5e9c7c"/><rect x="231.4" y="336.1" width="3.2" height="3.1" fill="#8fb3a0"/><rect x="351.4" y="403.5" width="2.3" height="2.8" fill="#1a2520"/><rect x="283.2" y="319.9" width="1.5" height="3.0" fill="#1a2520"/><rect x="389.1" y="476.4" width="2.0" height="1.9" fill="#3a403d"/><rect x="353.8" y="438.3" width="3.2" height="2.8" fill="#3a403d"/><rect x="380.2" y="374.9" width="2.4" height="2.0" fill="#3a403d"/><rect x="327.6" y="527.1" width="1.7" height="2.3" fill="#27302c"/><rect x="385.8" y="569.8" width="3.2" height="2.6" fill="#5e9c7c"/><rect x="373.3" y="416.7" width="2.8" height="1.5" fill="#3a403d"/><rect x="247.0" y="455.6" width="3.1" height="1.0" fill="#a8bfb2"/><rect x="250.0" y="507.2" width="1.5" height="1.7" fill="#c9d2cc"/><rect x="378.7" y="378.8" width="2.1" height="3.1" fill="#c9d2cc"/><rect x="372.0" y="507.3" width="1.1" height="1.7" fill="#5e9c7c"/><rect x="392.0" y="493.1" width="1.7" height="2.8" fill="#14442f"/><rect x="373.8" y="514.2" width="1.3" height="2.5" fill="#c9d2cc"/><rect x="296.6" y="332.6" width="2.9" height="1.3" fill="#a8bfb2"/><rect x="271.7" y="516.5" width="2.1" height="1.7" fill="#14442f"/><rect x="376.4" y="473.0" width="1.5" height="1.7" fill="#8fb3a0"/><rect x="339.4" y="368.5" width="2.4" height="1.2" fill="#27302c"/><rect x="327.9" y="371.0" width="1.6" height="2.8" fill="#27302c"/><rect x="258.2" y="335.9" width="2.6" height="1.1" fill="#8fb3a0"/><rect x="304.5" y="526.7" width="1.8" height="3.0" fill="#c9d2cc"/><rect x="236.2" y="297.4" width="2.7" height="3.0" fill="#5e9c7c"/><rect x="337.9" y="537.5" width="2.1" height="2.1" fill="#8fb3a0"/><rect x="327.0" y="533.6" width="1.2" height="2.0" fill="#c9d2cc"/><rect x="319.1" y="361.6" width="2.6" height="2.6" fill="#14442f"/><rect x="347.5" y="467.3" width="2.9" height="1.4" fill="#8fb3a0"/><rect x="363.0" y="444.2" width="2.6" height="2.9" fill="#1a2520"/><rect x="360.6" y="355.5" width="1.3" height="1.7" fill="#1a2520"/><rect x="344.3" y="549.8" width="2.6" height="2.7" fill="#c9d2cc"/><rect x="255.2" y="361.1" width="1.4" height="2.5" fill="#c9d2cc"/><rect x="309.2" y="530.3" width="3.2" height="1.3" fill="#c9d2cc"/><rect x="320.5" y="433.6" width="3.1" height="3.1" fill="#a8bfb2"/><rect x="276.3" y="315.7" width="2.9" height="1.9" fill="#27302c"/><rect x="384.5" y="397.6" width="1.7" height="3.2" fill="#a8bfb2"/><rect x="284.3" y="508.0" width="2.9" height="2.3" fill="#8fb3a0"/><rect x="304.6" y="407.2" width="2.9" height="1.8" fill="#1a2520"/><rect x="262.6" y="392.0" width="1.4" height="2.2" fill="#8fb3a0"/><rect x="307.6" y="409.7" width="2.3" height="2.7" fill="#c9d2cc"/><rect x="341.5" y="564.2" width="1.5" height="1.8" fill="#27302c"/><rect x="234.0" y="368.3" width="3.1" height="2.4" fill="#8fb3a0"/><rect x="352.1" y="447.1" width="2.2" height="2.4" fill="#a8bfb2"/><rect x="271.7" y="396.6" width="1.3" height="3.1" fill="#5e9c7c"/><rect x="249.3" y="356.5" width="2.8" height="1.3" fill="#5e9c7c"/><rect x="368.6" y="426.3" width="2.9" height="1.8" fill="#14442f"/><rect x="357.0" y="449.4" width="1.1" height="1.9" fill="#a8bfb2"/><rect x="309.0" y="338.7" width="2.1" height="1.3" fill="#a8bfb2"/><rect x="279.1" y="417.6" width="2.2" height="1.3" fill="#14442f"/><rect x="279.4" y="426.9" width="1.8" height="2.9" fill="#14442f"/><rect x="316.9" y="426.1" width="1.3" height="2.1" fill="#5e9c7c"/><rect x="264.4" y="373.6" width="1.8" height="1.5" fill="#1a2520"/><rect x="370.2" y="525.5" width="2.1" height="1.0" fill="#14442f"/><rect x="371.0" y="462.4" width="1.8" height="1.3" fill="#5e9c7c"/><rect x="306.8" y="331.7" width="2.5" height="1.5" fill="#27302c"/><rect x="352.3" y="579.1" width="2.8" height="2.1" fill="#14442f"/><rect x="345.2" y="460.8" width="2.5" height="1.1" fill="#3a403d"/><rect x="381.1" y="366.8" width="1.8" height="2.9" fill="#14442f"/><rect x="322.2" y="363.5" width="2.5" height="1.4" fill="#c9d2cc"/><rect x="346.2" y="348.3" width="1.2" height="1.1" fill="#3a403d"/><rect x="342.2" y="367.1" width="2.1" height="2.0" fill="#1a2520"/><rect x="251.5" y="340.3" width="1.5" height="2.5" fill="#a8bfb2"/><rect x="366.0" y="571.3" width="2.5" height="2.8" fill="#14442f"/><rect x="279.3" y="515.1" width="2.5" height="2.5" fill="#a8bfb2"/><rect x="331.7" y="439.9" width="2.2" height="1.8" fill="#14442f"/><rect x="287.6" y="511.9" width="3.0" height="2.6" fill="#27302c"/><rect x="376.6" y="379.6" width="2.9" height="2.1" fill="#c9d2cc"/><rect x="284.6" y="408.7" width="2.6" height="2.5" fill="#14442f"/><rect x="347.7" y="360.1" width="2.6" height="1.7" fill="#5e9c7c"/><rect x="271.7" y="329.7" width="1.4" height="2.4" fill="#14442f"/><rect x="265.3" y="337.7" width="1.0" height="2.3" fill="#8fb3a0"/><rect x="271.6" y="366.5" width="1.6" height="2.5" fill="#3a403d"/><rect x="384.7" y="606.3" width="1.1" height="2.6" fill="#27302c"/><rect x="362.3" y="411.1" width="3.0" height="2.8" fill="#c9d2cc"/><rect x="255.1" y="298.5" width="2.0" height="2.9" fill="#14442f"/><rect x="264.0" y="517.1" width="1.9" height="1.3" fill="#3a403d"/><rect x="340.7" y="348.3" width="1.6" height="2.9" fill="#c9d2cc"/><rect x="255.8" y="311.8" width="3.1" height="1.6" fill="#c9d2cc"/><rect x="299.5" y="326.7" width="2.9" height="1.6" fill="#8fb3a0"/><rect x="272.5" y="409.6" width="1.7" height="1.2" fill="#a8bfb2"/><rect x="234.7" y="297.5" width="3.0" height="1.7" fill="#27302c"/><rect x="262.5" y="482.0" width="2.8" height="1.6" fill="#a8bfb2"/><rect x="385.6" y="564.8" width="3.2" height="2.0" fill="#1a2520"/><rect x="254.7" y="315.7" width="1.2" height="1.8" fill="#14442f"/><rect x="288.0" y="532.1" width="1.6" height="1.5" fill="#c9d2cc"/><rect x="366.7" y="532.4" width="3.2" height="1.2" fill="#c9d2cc"/><rect x="294.4" y="511.6" width="1.6" height="3.0" fill="#1a2520"/><rect x="281.0" y="517.9" width="2.1" height="1.6" fill="#5e9c7c"/><rect x="332.6" y="426.2" width="1.7" height="1.1" fill="#5e9c7c"/><rect x="327.0" y="364.4" width="1.5" height="1.4" fill="#1a2520"/><rect x="352.3" y="458.4" width="2.5" height="1.4" fill="#27302c"/><rect x="368.8" y="530.3" width="1.0" height="1.4" fill="#27302c"/><rect x="295.4" y="511.8" width="1.4" height="1.6" fill="#3a403d"/><rect x="333.9" y="402.3" width="2.4" height="1.5" fill="#5e9c7c"/><rect x="376.9" y="562.0" width="2.4" height="2.1" fill="#27302c"/><rect x="352.5" y="421.7" width="2.0" height="2.8" fill="#a8bfb2"/><rect x="315.8" y="426.9" width="1.6" height="1.1" fill="#1a2520"/><rect x="351.5" y="380.5" width="2.6" height="3.2" fill="#3a403d"/><rect x="354.0" y="575.7" width="1.2" height="1.4" fill="#8fb3a0"/><rect x="367.0" y="542.4" width="2.1" height="3.2" fill="#27302c"/><rect x="285.3" y="345.3" width="1.0" height="1.9" fill="#c9d2cc"/><rect x="359.8" y="439.9" width="1.5" height="2.8" fill="#1a2520"/><rect x="357.0" y="459.5" width="3.0" height="2.8" fill="#8fb3a0"/><rect x="275.0" y="415.0" width="2.4" height="1.1" fill="#c9d2cc"/><rect x="333.0" y="568.8" width="2.6" height="1.4" fill="#3a403d"/><rect x="345.0" y="558.1" width="3.1" height="2.4" fill="#a8bfb2"/><rect x="329.7" y="395.4" width="1.4" height="3.2" fill="#a8bfb2"/><rect x="351.2" y="396.3" width="1.7" height="1.9" fill="#8fb3a0"/><rect x="238.1" y="364.8" width="1.8" height="2.3" fill="#14442f"/><rect x="386.1" y="391.7" width="2.5" height="1.5" fill="#27302c"/><rect x="341.0" y="427.9" width="3.1" height="1.9" fill="#3a403d"/><rect x="328.2" y="425.8" width="1.1" height="1.9" fill="#14442f"/><rect x="337.8" y="427.3" width="1.5" height="2.7" fill="#1a2520"/><rect x="289.7" y="517.5" width="2.5" height="1.8" fill="#1a2520"/><rect x="238.3" y="332.9" width="2.1" height="2.1" fill="#1a2520"/><rect x="391.0" y="602.1" width="3.2" height="1.9" fill="#a8bfb2"/><rect x="304.6" y="410.0" width="2.4" height="1.5" fill="#a8bfb2"/><rect x="388.9" y="508.4" width="2.7" height="3.0" fill="#c9d2cc"/><rect x="372.1" y="591.5" width="3.0" height="1.1" fill="#5e9c7c"/><rect x="391.6" y="535.3" width="1.2" height="3.2" fill="#27302c"/><rect x="237.5" y="355.4" width="2.5" height="2.1" fill="#14442f"/><rect x="268.0" y="414.3" width="1.1" height="1.5" fill="#c9d2cc"/><rect x="254.9" y="310.9" width="1.3" height="3.0" fill="#8fb3a0"/><rect x="250.5" y="464.5" width="1.4" height="2.4" fill="#27302c"/><rect x="350.9" y="514.0" width="1.3" height="2.2" fill="#1a2520"/><rect x="381.1" y="457.4" width="2.7" height="2.7" fill="#3a403d"/><rect x="270.3" y="313.3" width="3.0" height="1.7" fill="#c9d2cc"/><rect x="392.9" y="585.6" width="1.2" height="2.4" fill="#14442f"/><rect x="351.7" y="362.3" width="1.8" height="1.9" fill="#c9d2cc"/><rect x="282.8" y="315.0" width="1.7" height="2.2" fill="#8fb3a0"/><rect x="327.7" y="399.2" width="1.7" height="2.3" fill="#1a2520"/><rect x="313.8" y="527.8" width="1.1" height="1.2" fill="#14442f"/><rect x="326.2" y="545.8" width="3.1" height="2.4" fill="#5e9c7c"/><rect x="393.3" y="553.7" width="1.7" height="1.7" fill="#8fb3a0"/><rect x="360.0" y="490.5" width="1.1" height="2.7" fill="#1a2520"/><rect x="348.0" y="482.1" width="2.5" height="1.5" fill="#1a2520"/><rect x="366.0" y="436.0" width="1.7" height="2.4" fill="#27302c"/><rect x="255.3" y="303.9" width="2.5" height="1.3" fill="#c9d2cc"/><rect x="341.1" y="543.6" width="2.0" height="3.0" fill="#27302c"/><rect x="368.0" y="595.5" width="1.8" height="2.8" fill="#27302c"/><rect x="345.5" y="408.7" width="2.5" height="2.4" fill="#27302c"/><rect x="374.5" y="433.8" width="1.1" height="2.0" fill="#3a403d"/><rect x="260.0" y="510.8" width="2.1" height="2.0" fill="#3a403d"/><rect x="313.0" y="436.9" width="2.2" height="2.9" fill="#5e9c7c"/><rect x="369.2" y="395.7" width="2.3" height="2.1" fill="#3a403d"/><rect x="281.8" y="508.9" width="1.5" height="1.6" fill="#3a403d"/><rect x="323.7" y="361.9" width="1.1" height="2.8" fill="#3a403d"/><rect x="267.3" y="347.3" width="3.0" height="1.1" fill="#8fb3a0"/><rect x="391.9" y="579.8" width="2.0" height="2.1" fill="#a8bfb2"/><rect x="257.7" y="483.1" width="2.5" height="2.1" fill="#8fb3a0"/><rect x="282.6" y="326.6" width="3.1" height="2.7" fill="#14442f"/><rect x="263.1" y="342.6" width="2.2" height="2.3" fill="#27302c"/><rect x="253.7" y="339.5" width="1.4" height="3.2" fill="#5e9c7c"/><rect x="343.2" y="397.6" width="3.1" height="2.6" fill="#14442f"/><rect x="329.4" y="553.5" width="3.2" height="1.2" fill="#5e9c7c"/><rect x="269.1" y="373.9" width="1.6" height="1.3" fill="#c9d2cc"/><rect x="238.9" y="285.7" width="2.7" height="3.1" fill="#8fb3a0"/><rect x="372.1" y="561.5" width="2.3" height="2.2" fill="#8fb3a0"/><rect x="382.3" y="534.9" width="1.6" height="1.1" fill="#5e9c7c"/><rect x="307.8" y="505.2" width="1.8" height="1.5" fill="#14442f"/><rect x="322.2" y="392.5" width="1.5" height="3.1" fill="#27302c"/><rect x="352.3" y="377.0" width="1.0" height="3.1" fill="#27302c"/><rect x="286.1" y="323.0" width="3.1" height="2.5" fill="#8fb3a0"/><rect x="371.4" y="538.1" width="2.1" height="1.2" fill="#8fb3a0"/><rect x="249.7" y="340.4" width="2.5" height="1.1" fill="#27302c"/><rect x="248.9" y="376.3" width="1.7" height="2.5" fill="#8fb3a0"/><rect x="391.9" y="593.3" width="3.0" height="2.9" fill="#1a2520"/><rect x="329.5" y="541.7" width="3.2" height="2.3" fill="#5e9c7c"/><rect x="231.4" y="313.3" width="2.9" height="3.1" fill="#1a2520"/><rect x="296.4" y="325.8" width="1.4" height="2.3" fill="#27302c"/><rect x="367.7" y="412.1" width="1.7" height="1.8" fill="#1a2520"/><rect x="348.9" y="450.1" width="1.8" height="2.4" fill="#3a403d"/><rect x="255.9" y="326.1" width="1.6" height="2.1" fill="#5e9c7c"/><rect x="257.4" y="502.5" width="2.3" height="2.3" fill="#14442f"/><rect x="312.7" y="523.0" width="1.4" height="1.1" fill="#a8bfb2"/><rect x="355.8" y="357.6" width="1.5" height="1.9" fill="#8fb3a0"/><rect x="291.8" y="321.3" width="2.7" height="2.7" fill="#5e9c7c"/><rect x="380.1" y="463.8" width="3.1" height="1.1" fill="#1a2520"/><rect x="234.8" y="287.0" width="3.1" height="1.9" fill="#8fb3a0"/><rect x="250.4" y="344.7" width="2.9" height="3.1" fill="#5e9c7c"/><rect x="249.1" y="502.5" width="2.9" height="2.6" fill="#c9d2cc"/><rect x="288.4" y="518.8" width="3.0" height="1.3" fill="#27302c"/><rect x="364.7" y="423.8" width="2.8" height="1.6" fill="#27302c"/><rect x="239.9" y="350.5" width="1.2" height="1.7" fill="#8fb3a0"/><rect x="322.6" y="374.3" width="2.7" height="3.1" fill="#c9d2cc"/><rect x="341.3" y="422.6" width="2.3" height="2.2" fill="#14442f"/><rect x="253.7" y="333.8" width="2.6" height="1.5" fill="#1a2520"/><rect x="389.5" y="480.5" width="1.1" height="1.1" fill="#5e9c7c"/><rect x="233.1" y="363.0" width="2.4" height="1.8" fill="#c9d2cc"/><rect x="254.3" y="324.0" width="2.3" height="2.3" fill="#3a403d"/><rect x="317.8" y="429.8" width="1.7" height="3.0" fill="#a8bfb2"/><rect x="377.5" y="495.8" width="2.0" height="2.2" fill="#14442f"/><rect x="294.6" y="510.5" width="1.7" height="2.4" fill="#1a2520"/><rect x="333.4" y="430.4" width="1.2" height="2.1" fill="#c9d2cc"/><rect x="236.5" y="323.8" width="1.1" height="2.2" fill="#1a2520"/><rect x="361.7" y="361.1" width="3.0" height="2.1" fill="#3a403d"/><rect x="251.8" y="381.5" width="2.5" height="2.1" fill="#a8bfb2"/><rect x="268.0" y="519.6" width="1.6" height="1.7" fill="#8fb3a0"/><rect x="337.8" y="433.3" width="2.4" height="2.5" fill="#3a403d"/><rect x="384.5" y="491.2" width="1.1" height="2.5" fill="#27302c"/><rect x="270.1" y="372.2" width="1.9" height="1.6" fill="#14442f"/><rect x="356.7" y="538.3" width="2.9" height="2.3" fill="#c9d2cc"/><rect x="334.7" y="440.3" width="1.8" height="1.8" fill="#1a2520"/><rect x="376.2" y="443.0" width="3.2" height="1.5" fill="#27302c"/><rect x="344.1" y="448.3" width="1.7" height="1.6" fill="#8fb3a0"/><rect x="324.7" y="377.2" width="2.0" height="1.1" fill="#27302c"/><rect x="372.6" y="454.8" width="2.0" height="2.6" fill="#a8bfb2"/><rect x="287.9" y="421.0" width="1.9" height="1.7" fill="#5e9c7c"/><rect x="371.6" y="453.5" width="1.5" height="3.0" fill="#c9d2cc"/><rect x="363.5" y="584.8" width="2.1" height="3.1" fill="#3a403d"/><rect x="235.7" y="326.2" width="2.2" height="1.6" fill="#5e9c7c"/><rect x="233.1" y="295.4" width="1.1" height="3.1" fill="#c9d2cc"/><rect x="259.0" y="360.4" width="3.0" height="2.2" fill="#1a2520"/><rect x="271.8" y="508.0" width="2.0" height="1.3" fill="#3a403d"/><rect x="310.7" y="538.1" width="1.5" height="2.8" fill="#a8bfb2"/><rect x="247.9" y="294.3" width="2.0" height="1.0" fill="#27302c"/><rect x="352.3" y="520.0" width="2.4" height="1.5" fill="#a8bfb2"/><rect x="370.9" y="438.5" width="2.3" height="1.7" fill="#27302c"/><rect x="368.0" y="516.8" width="2.3" height="2.6" fill="#a8bfb2"/><rect x="346.4" y="425.8" width="1.8" height="2.0" fill="#c9d2cc"/><rect x="300.0" y="346.5" width="1.1" height="2.9" fill="#27302c"/><rect x="375.5" y="427.9" width="1.8" height="3.0" fill="#3a403d"/><rect x="264.6" y="352.4" width="2.3" height="2.3" fill="#c9d2cc"/><rect x="284.1" y="513.7" width="1.0" height="1.9" fill="#3a403d"/><rect x="263.6" y="409.0" width="3.2" height="1.4" fill="#3a403d"/><rect x="365.6" y="555.7" width="1.9" height="2.3" fill="#5e9c7c"/><rect x="352.9" y="469.4" width="1.6" height="2.6" fill="#3a403d"/><rect x="281.2" y="518.7" width="3.1" height="1.6" fill="#5e9c7c"/><rect x="254.4" y="484.9" width="3.0" height="2.5" fill="#14442f"/><rect x="380.0" y="599.0" width="2.5" height="1.2" fill="#1a2520"/><rect x="277.1" y="507.1" width="2.5" height="2.8" fill="#3a403d"/><rect x="317.7" y="408.9" width="1.9" height="2.7" fill="#a8bfb2"/><rect x="380.8" y="488.8" width="1.1" height="1.4" fill="#1a2520"/><rect x="309.1" y="508.3" width="1.1" height="2.8" fill="#5e9c7c"/><rect x="261.9" y="511.0" width="2.5" height="1.7" fill="#a8bfb2"/><rect x="369.8" y="510.2" width="1.1" height="3.0" fill="#14442f"/><rect x="264.0" y="350.4" width="2.4" height="1.3" fill="#5e9c7c"/><rect x="360.0" y="572.2" width="1.4" height="1.4" fill="#8fb3a0"/><rect x="285.2" y="533.1" width="1.7" height="2.9" fill="#c9d2cc"/><rect x="369.0" y="457.4" width="2.3" height="1.2" fill="#1a2520"/><rect x="326.9" y="530.4" width="2.1" height="2.2" fill="#3a403d"/><rect x="236.7" y="310.0" width="1.0" height="2.5" fill="#8fb3a0"/><rect x="252.0" y="502.7" width="1.1" height="2.7" fill="#a8bfb2"/><rect x="321.4" y="394.9" width="1.8" height="1.5" fill="#14442f"/><rect x="287.9" y="415.1" width="1.4" height="1.4" fill="#8fb3a0"/><rect x="369.8" y="432.7" width="2.1" height="1.7" fill="#c9d2cc"/><rect x="343.7" y="443.2" width="1.9" height="1.9" fill="#14442f"/><rect x="316.6" y="539.4" width="3.0" height="1.5" fill="#1a2520"/><rect x="276.4" y="406.8" width="2.4" height="1.1" fill="#c9d2cc"/><rect x="274.5" y="339.9" width="2.9" height="2.8" fill="#c9d2cc"/><rect x="343.6" y="524.7" width="2.0" height="1.9" fill="#a8bfb2"/><rect x="381.9" y="555.0" width="1.2" height="1.5" fill="#5e9c7c"/><rect x="244.8" y="463.8" width="3.1" height="2.0" fill="#1a2520"/><rect x="325.0" y="333.9" width="2.0" height="3.0" fill="#c9d2cc"/><rect x="262.9" y="425.3" width="2.2" height="1.7" fill="#1a2520"/><rect x="383.2" y="477.7" width="1.5" height="1.7" fill="#8fb3a0"/><rect x="349.1" y="529.3" width="1.1" height="1.1" fill="#8fb3a0"/><rect x="360.5" y="487.9" width="2.6" height="3.0" fill="#5e9c7c"/><rect x="362.9" y="577.0" width="2.6" height="1.7" fill="#27302c"/><rect x="268.9" y="514.8" width="1.4" height="2.1" fill="#1a2520"/><rect x="266.8" y="369.2" width="3.0" height="2.5" fill="#27302c"/><rect x="268.8" y="508.1" width="1.8" height="3.1" fill="#27302c"/><rect x="332.7" y="404.0" width="2.6" height="2.1" fill="#1a2520"/><rect x="246.7" y="360.6" width="1.3" height="1.8" fill="#5e9c7c"/><rect x="320.8" y="406.0" width="3.1" height="2.4" fill="#8fb3a0"/><rect x="332.5" y="425.8" width="2.1" height="1.1" fill="#1a2520"/><rect x="264.3" y="421.6" width="1.8" height="1.4" fill="#5e9c7c"/><rect x="232.4" y="313.6" width="1.6" height="1.4" fill="#27302c"/><rect x="366.5" y="540.4" width="1.9" height="1.8" fill="#27302c"/><rect x="325.9" y="407.0" width="2.2" height="3.1" fill="#8fb3a0"/><rect x="375.8" y="584.8" width="1.2" height="2.4" fill="#14442f"/><rect x="274.4" y="373.8" width="2.7" height="2.7" fill="#8fb3a0"/><rect x="332.8" y="565.0" width="1.8" height="1.6" fill="#27302c"/><rect x="351.9" y="565.2" width="1.8" height="2.3" fill="#14442f"/><rect x="332.9" y="369.4" width="1.7" height="2.3" fill="#a8bfb2"/><rect x="257.8" y="445.1" width="2.3" height="2.2" fill="#14442f"/><rect x="259.8" y="461.9" width="1.7" height="1.0" fill="#1a2520"/><rect x="335.0" y="432.7" width="2.1" height="1.1" fill="#3a403d"/><rect x="347.7" y="353.6" width="2.1" height="2.6" fill="#c9d2cc"/><rect x="385.0" y="416.6" width="1.7" height="1.9" fill="#5e9c7c"/><rect x="349.0" y="537.0" width="2.2" height="2.4" fill="#a8bfb2"/><rect x="247.4" y="476.1" width="2.5" height="1.9" fill="#8fb3a0"/><rect x="318.7" y="341.1" width="2.5" height="1.8" fill="#1a2520"/><rect x="249.6" y="501.9" width="1.6" height="1.6" fill="#c9d2cc"/><rect x="371.5" y="400.3" width="1.2" height="2.4" fill="#1a2520"/><rect x="325.7" y="560.8" width="1.4" height="1.8" fill="#27302c"/><rect x="328.6" y="551.3" width="1.8" height="1.3" fill="#5e9c7c"/><rect x="376.3" y="461.1" width="2.3" height="2.9" fill="#5e9c7c"/><rect x="333.6" y="432.4" width="1.0" height="2.0" fill="#14442f"/><rect x="252.7" y="364.9" width="2.2" height="1.8" fill="#5e9c7c"/><rect x="360.8" y="372.9" width="2.0" height="2.1" fill="#14442f"/><rect x="308.3" y="408.9" width="2.1" height="1.8" fill="#27302c"/><rect x="251.6" y="325.8" width="1.9" height="2.3" fill="#8fb3a0"/><rect x="376.6" y="437.3" width="1.3" height="1.3" fill="#27302c"/><rect x="282.6" y="337.2" width="3.2" height="1.6" fill="#1a2520"/><rect x="283.0" y="324.1" width="2.7" height="1.2" fill="#1a2520"/></g>
<g opacity="0.85"><rect x="254.0" y="506.4" width="1.7" height="1.5" fill="#b8cdc1"/><rect x="315.7" y="539.3" width="0.8" height="2.1" fill="#d0dad4"/><rect x="265.5" y="353.7" width="0.9" height="2.2" fill="#d0dad4"/><rect x="288.6" y="327.7" width="1.9" height="1.0" fill="#9fbfae"/><rect x="373.2" y="354.4" width="1.9" height="1.1" fill="#5a8a72"/><rect x="250.8" y="455.0" width="1.2" height="2.1" fill="#5a8a72"/><rect x="353.2" y="350.2" width="1.7" height="1.6" fill="#5a8a72"/><rect x="332.5" y="554.4" width="1.3" height="1.9" fill="#7fa390"/><rect x="267.8" y="332.3" width="2.1" height="1.0" fill="#d0dad4"/><rect x="289.7" y="504.2" width="1.7" height="2.1" fill="#b8cdc1"/><rect x="389.4" y="473.2" width="2.0" height="1.5" fill="#d0dad4"/><rect x="300.7" y="412.1" width="1.8" height="0.9" fill="#7fa390"/><rect x="234.9" y="362.2" width="1.2" height="1.4" fill="#b8cdc1"/><rect x="234.4" y="322.6" width="1.7" height="2.1" fill="#d0dad4"/><rect x="368.5" y="541.6" width="2.0" height="1.6" fill="#d0dad4"/><rect x="307.1" y="322.4" width="1.6" height="1.0" fill="#9fbfae"/><rect x="291.0" y="318.0" width="1.8" height="1.2" fill="#7fa390"/><rect x="335.5" y="560.5" width="1.6" height="1.2" fill="#d0dad4"/><rect x="353.8" y="547.3" width="1.0" height="1.0" fill="#d0dad4"/><rect x="242.0" y="284.5" width="1.4" height="1.0" fill="#9fbfae"/><rect x="254.2" y="337.4" width="1.3" height="1.8" fill="#5a8a72"/><rect x="354.7" y="477.7" width="1.5" height="1.8" fill="#9fbfae"/><rect x="347.0" y="360.5" width="1.8" height="1.2" fill="#9fbfae"/><rect x="267.6" y="328.2" width="1.8" height="2.2" fill="#5a8a72"/><rect x="362.5" y="439.7" width="1.6" height="1.6" fill="#9fbfae"/><rect x="312.4" y="521.3" width="2.2" height="1.2" fill="#5a8a72"/><rect x="244.3" y="301.4" width="0.9" height="1.9" fill="#d0dad4"/><rect x="233.1" y="368.0" width="1.6" height="1.4" fill="#d0dad4"/><rect x="309.6" y="515.5" width="2.0" height="1.9" fill="#5a8a72"/><rect x="339.6" y="562.9" width="1.8" height="1.8" fill="#b8cdc1"/><rect x="278.0" y="403.5" width="1.5" height="1.8" fill="#9fbfae"/><rect x="253.5" y="343.5" width="2.0" height="1.8" fill="#9fbfae"/><rect x="352.2" y="430.4" width="1.0" height="2.1" fill="#d0dad4"/><rect x="280.8" y="360.9" width="2.0" height="1.0" fill="#5a8a72"/><rect x="260.0" y="475.7" width="1.2" height="1.3" fill="#d0dad4"/><rect x="305.4" y="421.9" width="1.7" height="1.2" fill="#b8cdc1"/><rect x="262.6" y="393.1" width="1.7" height="2.0" fill="#7fa390"/><rect x="345.1" y="356.2" width="0.8" height="1.6" fill="#9fbfae"/><rect x="254.3" y="466.6" width="2.1" height="1.4" fill="#9fbfae"/><rect x="278.5" y="415.3" width="2.0" height="1.1" fill="#5a8a72"/><rect x="362.4" y="557.7" width="2.1" height="2.0" fill="#9fbfae"/><rect x="251.9" y="442.1" width="1.5" height="1.5" fill="#d0dad4"/><rect x="306.1" y="543.2" width="1.3" height="1.2" fill="#7fa390"/><rect x="339.6" y="338.2" width="0.9" height="2.0" fill="#7fa390"/><rect x="252.9" y="310.8" width="2.1" height="1.6" fill="#d0dad4"/><rect x="259.8" y="340.6" width="2.1" height="1.4" fill="#7fa390"/><rect x="366.6" y="347.4" width="0.9" height="1.3" fill="#5a8a72"/><rect x="245.0" y="379.7" width="1.1" height="1.4" fill="#7fa390"/><rect x="354.5" y="492.1" width="1.0" height="2.1" fill="#5a8a72"/><rect x="311.1" y="413.8" width="1.1" height="1.5" fill="#7fa390"/><rect x="357.8" y="523.1" width="2.0" height="1.3" fill="#9fbfae"/><rect x="373.3" y="467.4" width="2.2" height="2.1" fill="#5a8a72"/><rect x="351.8" y="523.7" width="1.1" height="1.5" fill="#7fa390"/><rect x="378.2" y="447.7" width="1.0" height="1.1" fill="#d0dad4"/><rect x="330.3" y="431.2" width="1.5" height="1.1" fill="#b8cdc1"/><rect x="269.0" y="419.7" width="1.3" height="1.5" fill="#7fa390"/><rect x="283.1" y="423.1" width="1.2" height="1.0" fill="#b8cdc1"/><rect x="259.5" y="351.9" width="1.8" height="1.9" fill="#d0dad4"/><rect x="282.7" y="394.3" width="1.6" height="1.4" fill="#9fbfae"/><rect x="373.1" y="526.9" width="1.3" height="1.2" fill="#d0dad4"/><rect x="360.8" y="586.0" width="1.1" height="2.0" fill="#9fbfae"/><rect x="352.8" y="359.1" width="1.0" height="1.9" fill="#7fa390"/><rect x="379.1" y="583.7" width="1.5" height="0.8" fill="#b8cdc1"/><rect x="274.2" y="363.7" width="2.0" height="0.9" fill="#5a8a72"/><rect x="349.2" y="474.6" width="1.4" height="1.5" fill="#5a8a72"/><rect x="334.1" y="398.2" width="1.3" height="1.9" fill="#d0dad4"/><rect x="348.2" y="471.8" width="1.4" height="1.1" fill="#d0dad4"/><rect x="369.4" y="534.7" width="2.1" height="1.8" fill="#7fa390"/><rect x="309.3" y="331.1" width="1.9" height="1.3" fill="#7fa390"/><rect x="303.7" y="343.4" width="0.8" height="1.0" fill="#b8cdc1"/><rect x="263.6" y="313.3" width="1.5" height="1.0" fill="#d0dad4"/><rect x="246.8" y="317.4" width="1.8" height="1.1" fill="#9fbfae"/><rect x="240.4" y="357.0" width="1.6" height="0.9" fill="#b8cdc1"/><rect x="299.4" y="539.4" width="2.1" height="1.8" fill="#9fbfae"/><rect x="363.1" y="505.5" width="2.0" height="1.4" fill="#5a8a72"/><rect x="357.1" y="469.6" width="1.1" height="2.1" fill="#9fbfae"/><rect x="358.4" y="361.8" width="1.5" height="1.2" fill="#b8cdc1"/><rect x="275.1" y="399.9" width="1.5" height="1.2" fill="#7fa390"/><rect x="235.1" y="371.9" width="0.9" height="1.3" fill="#b8cdc1"/><rect x="278.4" y="313.4" width="1.7" height="1.4" fill="#b8cdc1"/><rect x="366.7" y="447.2" width="0.9" height="2.2" fill="#b8cdc1"/><rect x="320.6" y="397.5" width="1.1" height="1.5" fill="#7fa390"/><rect x="329.4" y="421.3" width="1.9" height="0.8" fill="#5a8a72"/><rect x="302.5" y="522.0" width="1.5" height="1.3" fill="#7fa390"/><rect x="345.2" y="576.3" width="1.1" height="1.3" fill="#b8cdc1"/><rect x="341.5" y="533.9" width="1.7" height="2.2" fill="#9fbfae"/><rect x="281.7" y="402.9" width="2.2" height="1.0" fill="#d0dad4"/><rect x="265.2" y="316.5" width="0.8" height="1.1" fill="#d0dad4"/><rect x="345.3" y="447.6" width="2.2" height="1.7" fill="#d0dad4"/><rect x="356.9" y="449.4" width="0.9" height="1.8" fill="#9fbfae"/><rect x="254.2" y="313.1" width="1.5" height="0.9" fill="#7fa390"/><rect x="244.9" y="446.5" width="1.2" height="1.4" fill="#7fa390"/><rect x="296.3" y="406.8" width="1.8" height="1.0" fill="#7fa390"/><rect x="360.6" y="569.1" width="1.4" height="2.1" fill="#7fa390"/><rect x="365.1" y="369.1" width="1.9" height="0.8" fill="#7fa390"/><rect x="343.9" y="444.5" width="0.9" height="0.8" fill="#7fa390"/><rect x="370.4" y="558.9" width="1.7" height="1.0" fill="#b8cdc1"/><rect x="278.4" y="360.4" width="1.1" height="1.4" fill="#7fa390"/><rect x="352.8" y="519.6" width="1.1" height="1.2" fill="#7fa390"/><rect x="365.6" y="533.1" width="1.1" height="2.1" fill="#5a8a72"/><rect x="390.0" y="582.7" width="1.4" height="1.8" fill="#b8cdc1"/><rect x="257.8" y="481.7" width="2.2" height="2.0" fill="#d0dad4"/><rect x="254.4" y="459.3" width="1.0" height="1.9" fill="#9fbfae"/><rect x="376.9" y="567.1" width="2.2" height="2.1" fill="#9fbfae"/><rect x="323.6" y="397.4" width="1.6" height="1.4" fill="#d0dad4"/><rect x="382.1" y="494.4" width="1.6" height="1.9" fill="#d0dad4"/><rect x="239.4" y="343.5" width="1.1" height="1.3" fill="#7fa390"/><rect x="319.7" y="369.4" width="1.1" height="1.6" fill="#7fa390"/><rect x="330.7" y="525.0" width="1.5" height="1.9" fill="#7fa390"/><rect x="260.6" y="336.0" width="1.6" height="2.1" fill="#b8cdc1"/><rect x="268.2" y="361.9" width="2.0" height="1.7" fill="#9fbfae"/><rect x="370.1" y="464.1" width="0.9" height="2.2" fill="#b8cdc1"/><rect x="344.4" y="446.5" width="1.6" height="2.2" fill="#b8cdc1"/><rect x="256.6" y="340.2" width="1.8" height="2.2" fill="#d0dad4"/><rect x="259.5" y="500.0" width="2.2" height="2.1" fill="#d0dad4"/><rect x="284.0" y="418.9" width="0.9" height="1.8" fill="#b8cdc1"/><rect x="255.1" y="470.1" width="1.2" height="1.5" fill="#5a8a72"/><rect x="370.2" y="436.6" width="2.0" height="1.6" fill="#b8cdc1"/><rect x="385.2" y="402.9" width="1.7" height="1.0" fill="#d0dad4"/><rect x="260.8" y="447.7" width="1.1" height="1.0" fill="#7fa390"/><rect x="362.1" y="388.6" width="1.4" height="1.8" fill="#7fa390"/><rect x="294.3" y="527.0" width="2.2" height="1.5" fill="#7fa390"/><rect x="251.0" y="448.5" width="0.9" height="2.0" fill="#d0dad4"/><rect x="364.7" y="530.4" width="2.0" height="1.9" fill="#d0dad4"/><rect x="357.2" y="523.4" width="1.6" height="1.1" fill="#7fa390"/><rect x="298.5" y="536.8" width="2.1" height="1.9" fill="#d0dad4"/><rect x="377.8" y="573.4" width="2.0" height="1.9" fill="#7fa390"/><rect x="354.6" y="370.6" width="1.4" height="2.1" fill="#9fbfae"/><rect x="246.0" y="442.3" width="1.7" height="1.2" fill="#d0dad4"/><rect x="282.0" y="352.0" width="1.2" height="1.9" fill="#b8cdc1"/><rect x="244.1" y="448.4" width="2.1" height="0.9" fill="#5a8a72"/><rect x="273.0" y="344.8" width="1.0" height="1.8" fill="#9fbfae"/><rect x="282.8" y="408.7" width="1.8" height="1.1" fill="#9fbfae"/><rect x="383.6" y="369.9" width="0.9" height="1.6" fill="#7fa390"/><rect x="375.1" y="530.6" width="0.9" height="1.9" fill="#b8cdc1"/><rect x="382.0" y="542.3" width="1.4" height="0.9" fill="#d0dad4"/><rect x="352.3" y="367.0" width="0.8" height="2.1" fill="#9fbfae"/><rect x="326.2" y="381.2" width="1.8" height="1.8" fill="#9fbfae"/><rect x="324.7" y="366.1" width="1.7" height="0.9" fill="#7fa390"/><rect x="278.1" y="516.3" width="1.0" height="1.6" fill="#b8cdc1"/><rect x="322.8" y="552.5" width="1.5" height="1.0" fill="#5a8a72"/><rect x="314.9" y="540.0" width="2.2" height="1.2" fill="#9fbfae"/><rect x="361.0" y="391.8" width="1.5" height="1.9" fill="#7fa390"/><rect x="351.6" y="389.6" width="1.5" height="1.3" fill="#9fbfae"/><rect x="316.2" y="436.3" width="1.2" height="2.1" fill="#b8cdc1"/><rect x="323.8" y="435.7" width="1.7" height="2.0" fill="#b8cdc1"/><rect x="386.1" y="561.0" width="1.2" height="2.0" fill="#b8cdc1"/><rect x="336.1" y="370.4" width="1.7" height="1.2" fill="#7fa390"/><rect x="291.6" y="345.2" width="1.9" height="1.1" fill="#7fa390"/><rect x="359.4" y="358.1" width="1.2" height="1.6" fill="#d0dad4"/><rect x="263.5" y="475.8" width="1.3" height="1.6" fill="#5a8a72"/><rect x="234.2" y="288.3" width="1.4" height="1.5" fill="#d0dad4"/><rect x="367.3" y="449.4" width="1.4" height="1.7" fill="#b8cdc1"/><rect x="318.5" y="390.0" width="1.0" height="1.6" fill="#5a8a72"/><rect x="385.2" y="371.0" width="0.8" height="1.1" fill="#d0dad4"/><rect x="281.9" y="430.3" width="1.7" height="1.4" fill="#d0dad4"/><rect x="263.8" y="493.6" width="1.1" height="1.6" fill="#b8cdc1"/><rect x="348.7" y="439.8" width="1.7" height="1.3" fill="#9fbfae"/><rect x="286.1" y="326.2" width="1.4" height="1.6" fill="#7fa390"/><rect x="323.1" y="549.3" width="1.5" height="1.9" fill="#7fa390"/><rect x="292.0" y="425.2" width="1.9" height="2.0" fill="#9fbfae"/><rect x="340.6" y="419.7" width="2.2" height="1.8" fill="#b8cdc1"/><rect x="228.9" y="302.3" width="2.0" height="1.5" fill="#5a8a72"/><rect x="249.4" y="493.2" width="0.8" height="0.9" fill="#7fa390"/><rect x="247.9" y="341.8" width="1.9" height="2.1" fill="#5a8a72"/><rect x="242.3" y="335.1" width="1.3" height="1.4" fill="#5a8a72"/><rect x="335.2" y="421.0" width="2.2" height="1.0" fill="#d0dad4"/><rect x="334.3" y="429.3" width="0.9" height="1.7" fill="#5a8a72"/><rect x="285.5" y="514.0" width="1.5" height="0.9" fill="#9fbfae"/><rect x="355.5" y="568.6" width="2.0" height="1.3" fill="#b8cdc1"/><rect x="279.1" y="317.5" width="1.3" height="1.0" fill="#9fbfae"/><rect x="328.0" y="425.0" width="1.0" height="1.4" fill="#5a8a72"/><rect x="361.1" y="347.7" width="1.1" height="1.5" fill="#7fa390"/><rect x="256.6" y="370.9" width="2.0" height="1.1" fill="#b8cdc1"/><rect x="299.1" y="414.7" width="1.7" height="1.2" fill="#5a8a72"/><rect x="271.7" y="406.2" width="1.3" height="1.4" fill="#b8cdc1"/><rect x="374.7" y="541.6" width="2.2" height="1.1" fill="#d0dad4"/><rect x="302.6" y="517.0" width="1.0" height="1.6" fill="#7fa390"/><rect x="331.5" y="365.8" width="1.1" height="1.7" fill="#9fbfae"/><rect x="329.2" y="422.4" width="1.3" height="1.7" fill="#d0dad4"/><rect x="382.0" y="602.8" width="1.0" height="0.8" fill="#b8cdc1"/><rect x="361.9" y="367.9" width="2.1" height="1.0" fill="#b8cdc1"/><rect x="289.2" y="518.9" width="1.6" height="2.0" fill="#d0dad4"/><rect x="380.3" y="526.8" width="1.0" height="1.1" fill="#5a8a72"/><rect x="366.5" y="425.2" width="1.3" height="1.3" fill="#b8cdc1"/><rect x="383.5" y="471.0" width="1.9" height="1.7" fill="#d0dad4"/><rect x="324.6" y="404.2" width="0.8" height="2.0" fill="#b8cdc1"/><rect x="257.4" y="510.1" width="1.2" height="1.6" fill="#b8cdc1"/><rect x="345.2" y="544.8" width="1.6" height="1.2" fill="#d0dad4"/><rect x="382.1" y="508.0" width="1.5" height="0.9" fill="#5a8a72"/><rect x="303.0" y="511.3" width="1.4" height="0.9" fill="#b8cdc1"/><rect x="230.7" y="318.4" width="2.2" height="0.8" fill="#d0dad4"/><rect x="381.8" y="409.3" width="1.4" height="2.0" fill="#b8cdc1"/><rect x="244.2" y="342.7" width="2.1" height="2.0" fill="#5a8a72"/><rect x="268.4" y="394.1" width="1.1" height="0.9" fill="#9fbfae"/><rect x="297.6" y="523.5" width="1.3" height="2.1" fill="#b8cdc1"/><rect x="361.7" y="540.5" width="1.0" height="0.9" fill="#d0dad4"/><rect x="332.1" y="353.7" width="1.6" height="2.2" fill="#9fbfae"/><rect x="245.5" y="440.3" width="2.1" height="0.9" fill="#5a8a72"/><rect x="242.9" y="450.1" width="1.2" height="1.7" fill="#5a8a72"/><rect x="346.4" y="434.4" width="1.6" height="1.7" fill="#5a8a72"/><rect x="389.3" y="472.9" width="2.1" height="2.1" fill="#7fa390"/><rect x="366.6" y="378.5" width="1.4" height="1.5" fill="#5a8a72"/><rect x="382.7" y="533.6" width="1.1" height="1.2" fill="#d0dad4"/><rect x="326.0" y="336.5" width="1.1" height="1.3" fill="#d0dad4"/><rect x="366.3" y="551.0" width="1.4" height="1.4" fill="#9fbfae"/><rect x="269.6" y="377.7" width="2.0" height="2.0" fill="#b8cdc1"/><rect x="284.5" y="390.5" width="0.9" height="2.0" fill="#9fbfae"/><rect x="258.5" y="481.9" width="1.3" height="1.0" fill="#7fa390"/><rect x="344.8" y="562.9" width="0.9" height="1.5" fill="#b8cdc1"/><rect x="320.5" y="371.2" width="1.1" height="1.3" fill="#b8cdc1"/><rect x="274.5" y="524.5" width="1.5" height="1.1" fill="#d0dad4"/><rect x="368.1" y="483.2" width="1.7" height="1.9" fill="#7fa390"/><rect x="230.0" y="295.5" width="1.5" height="0.8" fill="#d0dad4"/><rect x="375.1" y="418.1" width="1.9" height="1.0" fill="#d0dad4"/><rect x="256.9" y="451.8" width="1.9" height="1.9" fill="#7fa390"/><rect x="311.7" y="431.4" width="2.1" height="1.7" fill="#b8cdc1"/><rect x="332.7" y="414.3" width="2.2" height="2.2" fill="#9fbfae"/><rect x="263.8" y="305.8" width="1.7" height="1.0" fill="#9fbfae"/><rect x="335.1" y="563.7" width="1.8" height="1.9" fill="#d0dad4"/><rect x="389.3" y="590.5" width="0.9" height="1.0" fill="#7fa390"/><rect x="242.5" y="310.7" width="1.0" height="1.6" fill="#7fa390"/><rect x="246.1" y="475.4" width="1.3" height="1.7" fill="#d0dad4"/><rect x="351.2" y="349.0" width="1.8" height="1.8" fill="#b8cdc1"/><rect x="360.0" y="424.4" width="1.0" height="1.7" fill="#d0dad4"/><rect x="368.8" y="394.4" width="2.1" height="1.3" fill="#d0dad4"/><rect x="384.4" y="547.3" width="2.2" height="1.6" fill="#5a8a72"/><rect x="302.7" y="319.3" width="1.6" height="1.9" fill="#b8cdc1"/><rect x="238.0" y="355.0" width="1.9" height="2.0" fill="#b8cdc1"/><rect x="334.4" y="416.8" width="1.3" height="2.0" fill="#d0dad4"/><rect x="264.6" y="485.4" width="1.8" height="1.7" fill="#d0dad4"/><rect x="342.9" y="573.2" width="1.6" height="1.0" fill="#9fbfae"/><rect x="344.7" y="487.2" width="2.0" height="1.6" fill="#b8cdc1"/><rect x="320.0" y="359.8" width="1.8" height="1.5" fill="#5a8a72"/><rect x="353.5" y="511.1" width="2.1" height="1.7" fill="#b8cdc1"/><rect x="338.1" y="553.3" width="2.1" height="1.9" fill="#7fa390"/><rect x="362.5" y="434.2" width="0.9" height="1.0" fill="#9fbfae"/><rect x="344.3" y="569.2" width="1.9" height="1.9" fill="#5a8a72"/><rect x="230.3" y="329.5" width="1.4" height="0.9" fill="#7fa390"/></g>
<!-- copper strip -->
<polygon points="247,293 254,296 262,386 255,384" fill="#7d5244"/>
<circle cx="253" cy="300" r="3" fill="#a07a5a" stroke="#333" stroke-width="0.6"/>
<circle cx="258" cy="380" r="3" fill="#a07a5a" stroke="#333" stroke-width="0.6"/>
<circle cx="246" cy="381" r="3" fill="#a07a5a" stroke="#333" stroke-width="0.6"/>
<circle cx="377" cy="373" r="3" fill="#a07a5a" stroke="#333" stroke-width="0.6"/>
<!-- top edge connectors -->
<g fill="#d8d8d4" stroke="#151515" stroke-width="1">
<polygon points="253,290 260,288.5 262,296 255,298"/>
<polygon points="266,297 275,296 277,305 268,307"/>
<polygon points="279,305 288,304 290,313 281,315"/>
<polygon points="295,313 320,322 322,331 297,322"/>
<polygon points="326,332 333,331 334,339 327,340"/>
</g>
<g fill="#f0f0ee"><polygon points="296,316 319,324 320,327 297,319"/><polygon points="256,292 260,291 261,294 257,295"/></g>
<polygon points="346,339 375,352 376,359 347,346" fill="#1e1e1e"/>
<!-- label -->
<polygon points="262,326 282,334 283,340 263,332" fill="#c9d0cc"/>
<!-- heatsink 1 -->
<polygon points="286,347 316,362 318,402 288,390" fill="#2b58c0" stroke="#173070" stroke-width="0.8"/>
<polygon points="290,353 313,365 314,398 291,388" fill="#1a1f2a"/>
<g stroke="#3a4a5a" stroke-width="0.6">
<line x1="294" y1="355" x2="295" y2="389"/><line x1="298" y1="357" x2="299" y2="391"/><line x1="302" y1="359" x2="303" y2="393"/><line x1="306" y1="361" x2="307" y2="395"/><line x1="310" y1="363" x2="311" y2="397"/>
</g>
<polygon points="318,398 340,409 340,414 318,404" fill="#c9d0cc" opacity="0.8"/>
<!-- chips -->
<g fill="#2a2f2c">
<polygon points="322,375 335,381 335,392 322,386"/>
<polygon points="322,390 335,396 335,405 322,399"/>
<polygon points="300,330 308,334 308,342 300,338"/>
<polygon points="263,350 272,354 272,362 263,358"/>
</g>
<!-- heatsink 2 -->
<polygon points="265,434 311,461 311,504 265,477" fill="#1c1f1e"/>
<g stroke="#4a504c" stroke-width="0.7">
<line x1="270" y1="437" x2="270" y2="480"/><line x1="275" y1="440" x2="275" y2="483"/><line x1="280" y1="443" x2="280" y2="486"/><line x1="285" y1="446" x2="285" y2="489"/><line x1="290" y1="449" x2="290" y2="492"/><line x1="295" y1="452" x2="295" y2="495"/><line x1="300" y1="455" x2="300" y2="498"/><line x1="305" y1="458" x2="305" y2="501"/>
</g>
<!-- RAM -->
<polygon points="312,441 322,446 323,510 313,505" fill="#2a3a30"/>
<polygon points="323,447 342,456 343,521 324,511" fill="#3f8c5a" stroke="#1d3d2a" stroke-width="0.6"/>
<polygon points="329,462 339,467 340,520 330,515" fill="#e2e6e2"/>
<g fill="#cfd3cf" stroke="#1a1a1a" stroke-width="0.9">
<polygon points="363,413 370,416 371,448 364,445"/>
<polygon points="376,418 383,421 384,454 377,451"/>
</g>
<g fill="#1e1e1e"><rect x="365.5" y="418" width="2" height="26"/><rect x="378.5" y="423" width="2" height="27"/></g>
<!-- right side connectors -->
<g fill="#1f2522">


<polygon points="370,478 386,486 386,505 370,497"/>
<polygon points="373,507 386,514 386,530 373,523"/>
<polygon points="294,502 310,510 310,520 294,512"/>
</g>
<polygon points="316,548 338,558 345,566 345,582 330,578 316,566" fill="#1b1b1b" stroke="#000" stroke-width="0.8"/>
<polygon points="380,495 392,500 392,518 380,512" fill="#dfe3df"/>
<polygon points="350,545 372,556 372,561 350,550" fill="#d7dbd7"/>
<polygon points="376,587 396,597 396,608 376,598" fill="#c9ccc6"/>
<!-- RJ45 and connector -->
<polygon points="218.9,391 232.8,385.2 246.7,388.9 245.6,398.5 227.4,403.3 219.4,398.5" fill="#1c1c1c" stroke="#000" stroke-width="0.8"/>
<polygon points="215.7,410.3 230.6,401.7 240.3,400.6 259.5,413.5 263.2,431.6 238.1,439.1 217.8,428.4" fill="#c9c6c1" stroke="#111" stroke-width="1.2"/>
<polygon points="215.7,410.3 230.6,401.7 240.3,400.6 259.5,413.5 237,424.2" fill="#e2dfda"/>
<polygon points="237,424.2 259.5,413.5 263.2,431.6 238.1,439.1" fill="#d4d1cb" stroke="#555" stroke-width="0.5"/>
<!-- black connectors left -->
<polygon points="271,500 283,497 302,508 302,521.7 290,523 271,512" fill="#1e1e1e"/>
<polygon points="242,458 252,455 256,470 245,472" fill="#1a1a1a"/>
<polygon points="250,480 256,478 258,494 251,495" fill="#1a1a1a"/>
</g>

<!-- CARD 5 -->
<g id="card5">
<polygon points="38.5,585 150,526 160,518 183,510 186,519 176,527 150,533 48,590 50,600 64,609 53,615 41,607" fill="#3e3e3e" stroke="#111" stroke-width="1.1"/>
<polygon points="47,583 153,527 170,522 182,540 205,547 224,563 273,613 162,686 58,602" fill="#2a5046" stroke="#111" stroke-width="1.3"/>
<g opacity="0.85"><rect x="187.5" y="643.2" width="2.6" height="2.9" fill="#1a2a24"/><rect x="83.1" y="583.2" width="2.7" height="1.8" fill="#203a30"/><rect x="96.5" y="568.3" width="2.8" height="2.5" fill="#7a8a88"/><rect x="186.4" y="595.1" width="1.3" height="2.9" fill="#1a2a24"/><rect x="94.9" y="557.9" width="3.0" height="2.7" fill="#2d3a34"/><rect x="118.3" y="555.2" width="2.8" height="2.3" fill="#7a8a88"/><rect x="114.9" y="581.5" width="1.3" height="1.3" fill="#203a30"/><rect x="179.3" y="619.5" width="2.4" height="1.1" fill="#a8b4b0"/><rect x="118.7" y="601.0" width="2.4" height="1.1" fill="#1a2a24"/><rect x="138.6" y="611.9" width="1.8" height="1.8" fill="#1a2a24"/><rect x="149.4" y="637.7" width="2.2" height="2.9" fill="#203a30"/><rect x="127.5" y="608.0" width="2.6" height="1.2" fill="#a8b4b0"/><rect x="124.3" y="622.0" width="2.8" height="1.7" fill="#203a30"/><rect x="118.0" y="574.3" width="1.4" height="1.2" fill="#7a8a88"/><rect x="209.5" y="573.1" width="2.0" height="2.4" fill="#203a30"/><rect x="269.0" y="609.4" width="1.8" height="1.5" fill="#a8b4b0"/><rect x="233.1" y="596.8" width="1.8" height="1.1" fill="#1a2a24"/><rect x="227.6" y="577.1" width="1.4" height="3.0" fill="#7a8a88"/><rect x="189.2" y="650.7" width="1.2" height="1.9" fill="#7a8a88"/><rect x="61.2" y="591.1" width="1.3" height="2.8" fill="#7a8a88"/><rect x="157.3" y="641.2" width="2.0" height="1.6" fill="#1d5a40"/><rect x="232.1" y="609.1" width="1.4" height="2.9" fill="#a8b4b0"/><rect x="88.3" y="602.7" width="2.0" height="2.1" fill="#a8b4b0"/><rect x="127.7" y="618.2" width="1.1" height="1.6" fill="#2d3a34"/><rect x="154.2" y="648.3" width="1.7" height="1.5" fill="#2d3a34"/><rect x="226.7" y="579.4" width="2.3" height="2.5" fill="#1d5a40"/><rect x="164.1" y="608.8" width="1.3" height="2.7" fill="#556866"/><rect x="198.3" y="590.5" width="2.2" height="2.9" fill="#1d5a40"/><rect x="115.8" y="612.6" width="2.7" height="1.5" fill="#1a2a24"/><rect x="91.8" y="618.0" width="2.2" height="1.4" fill="#7a8a88"/><rect x="153.6" y="559.7" width="1.1" height="1.3" fill="#a8b4b0"/><rect x="170.8" y="590.3" width="1.7" height="2.3" fill="#203a30"/><rect x="180.2" y="561.5" width="2.8" height="1.0" fill="#1d5a40"/><rect x="170.6" y="679.2" width="2.1" height="1.6" fill="#2d3a34"/><rect x="170.1" y="578.0" width="2.2" height="2.9" fill="#7a8a88"/><rect x="141.9" y="654.7" width="2.3" height="1.7" fill="#7a8a88"/><rect x="83.1" y="585.0" width="2.0" height="1.4" fill="#7a8a88"/><rect x="184.3" y="579.9" width="2.8" height="1.0" fill="#203a30"/><rect x="168.8" y="575.7" width="2.8" height="2.1" fill="#1d5a40"/><rect x="144.7" y="559.7" width="1.6" height="2.9" fill="#1d5a40"/><rect x="134.0" y="661.5" width="1.3" height="2.2" fill="#2d3a34"/><rect x="159.2" y="590.3" width="1.6" height="3.0" fill="#556866"/><rect x="135.9" y="600.8" width="2.1" height="1.5" fill="#556866"/><rect x="223.1" y="562.8" width="1.5" height="1.3" fill="#2d3a34"/><rect x="113.7" y="621.5" width="1.9" height="2.3" fill="#203a30"/><rect x="111.2" y="637.7" width="2.2" height="2.5" fill="#1a2a24"/><rect x="152.0" y="581.5" width="2.5" height="2.2" fill="#1a2a24"/><rect x="202.0" y="554.0" width="1.9" height="2.6" fill="#556866"/><rect x="154.6" y="633.5" width="2.4" height="2.8" fill="#556866"/><rect x="235.3" y="635.5" width="1.9" height="1.6" fill="#556866"/><rect x="155.2" y="612.0" width="2.0" height="1.7" fill="#7a8a88"/><rect x="143.3" y="610.7" width="1.1" height="2.5" fill="#2d3a34"/><rect x="97.1" y="627.6" width="2.9" height="2.4" fill="#7a8a88"/><rect x="146.1" y="552.7" width="1.4" height="2.6" fill="#203a30"/><rect x="72.2" y="584.4" width="1.1" height="1.1" fill="#203a30"/><rect x="78.1" y="592.9" width="1.6" height="2.2" fill="#556866"/><rect x="127.2" y="629.3" width="2.8" height="1.3" fill="#2d3a34"/><rect x="161.3" y="670.5" width="2.1" height="2.2" fill="#2d3a34"/><rect x="241.4" y="596.4" width="1.8" height="1.3" fill="#1a2a24"/><rect x="155.6" y="575.4" width="2.6" height="1.1" fill="#1d5a40"/><rect x="188.0" y="580.4" width="1.5" height="1.7" fill="#a8b4b0"/><rect x="226.3" y="584.3" width="2.4" height="1.7" fill="#2d3a34"/><rect x="228.2" y="593.2" width="2.7" height="2.0" fill="#8e9c9a"/><rect x="213.8" y="587.1" width="1.2" height="1.1" fill="#8e9c9a"/><rect x="91.8" y="602.4" width="2.9" height="2.3" fill="#a8b4b0"/><rect x="247.3" y="623.4" width="1.9" height="1.9" fill="#203a30"/><rect x="242.6" y="599.1" width="2.1" height="1.2" fill="#7a8a88"/><rect x="125.1" y="644.8" width="1.6" height="1.1" fill="#1a2a24"/><rect x="197.8" y="570.2" width="2.3" height="2.5" fill="#7a8a88"/><rect x="176.7" y="629.3" width="2.2" height="2.8" fill="#a8b4b0"/><rect x="200.4" y="552.9" width="1.7" height="1.1" fill="#556866"/><rect x="192.7" y="592.8" width="3.0" height="1.0" fill="#1a2a24"/><rect x="149.5" y="633.4" width="1.3" height="1.1" fill="#a8b4b0"/><rect x="68.6" y="599.3" width="2.4" height="2.3" fill="#556866"/><rect x="105.2" y="589.0" width="1.6" height="1.1" fill="#1a2a24"/><rect x="90.1" y="560.9" width="2.9" height="2.6" fill="#203a30"/><rect x="169.4" y="672.3" width="2.2" height="2.7" fill="#8e9c9a"/><rect x="188.0" y="594.5" width="1.7" height="1.8" fill="#1d5a40"/><rect x="165.0" y="544.5" width="1.0" height="2.5" fill="#556866"/><rect x="172.2" y="545.5" width="2.0" height="2.6" fill="#2d3a34"/><rect x="231.6" y="573.7" width="1.3" height="1.2" fill="#8e9c9a"/><rect x="204.2" y="652.4" width="2.9" height="2.3" fill="#2d3a34"/><rect x="112.1" y="583.5" width="1.2" height="1.8" fill="#a8b4b0"/><rect x="133.1" y="647.6" width="1.0" height="1.6" fill="#7a8a88"/><rect x="176.7" y="594.6" width="2.6" height="2.3" fill="#1a2a24"/><rect x="211.1" y="636.6" width="1.5" height="2.6" fill="#1d5a40"/><rect x="173.9" y="575.0" width="1.6" height="1.3" fill="#556866"/><rect x="199.4" y="569.3" width="1.1" height="2.5" fill="#1a2a24"/><rect x="77.1" y="580.9" width="2.7" height="2.9" fill="#1a2a24"/><rect x="99.8" y="592.5" width="1.7" height="1.7" fill="#1a2a24"/><rect x="84.6" y="623.3" width="1.3" height="3.0" fill="#2d3a34"/><rect x="166.8" y="550.7" width="2.4" height="1.9" fill="#1d5a40"/><rect x="151.3" y="593.3" width="1.9" height="2.5" fill="#7a8a88"/><rect x="167.3" y="680.1" width="2.2" height="1.2" fill="#1d5a40"/><rect x="201.6" y="556.6" width="1.0" height="2.8" fill="#8e9c9a"/><rect x="156.0" y="665.8" width="1.8" height="1.4" fill="#2d3a34"/><rect x="232.1" y="572.1" width="2.0" height="2.5" fill="#8e9c9a"/><rect x="130.1" y="654.0" width="2.6" height="2.3" fill="#1a2a24"/><rect x="186.5" y="587.9" width="1.3" height="2.7" fill="#556866"/><rect x="133.5" y="538.2" width="1.8" height="2.5" fill="#2d3a34"/><rect x="226.5" y="575.5" width="2.4" height="2.7" fill="#203a30"/><rect x="227.3" y="584.0" width="1.0" height="2.0" fill="#7a8a88"/><rect x="163.0" y="604.2" width="2.1" height="2.4" fill="#556866"/><rect x="226.9" y="581.8" width="2.2" height="2.4" fill="#8e9c9a"/><rect x="67.5" y="580.7" width="2.2" height="2.5" fill="#1d5a40"/><rect x="109.5" y="639.0" width="1.1" height="2.5" fill="#2d3a34"/><rect x="184.9" y="556.8" width="2.0" height="2.8" fill="#8e9c9a"/><rect x="124.6" y="650.3" width="1.8" height="2.9" fill="#1d5a40"/><rect x="132.7" y="644.6" width="2.1" height="1.4" fill="#a8b4b0"/><rect x="134.6" y="540.6" width="2.4" height="2.1" fill="#a8b4b0"/><rect x="140.5" y="553.0" width="2.3" height="2.1" fill="#1d5a40"/><rect x="141.4" y="591.9" width="2.1" height="2.8" fill="#2d3a34"/><rect x="141.7" y="536.7" width="2.8" height="1.7" fill="#1d5a40"/><rect x="174.0" y="620.8" width="1.4" height="1.4" fill="#203a30"/><rect x="192.8" y="634.8" width="2.5" height="1.1" fill="#556866"/><rect x="78.8" y="607.1" width="1.1" height="1.4" fill="#556866"/><rect x="236.3" y="600.2" width="1.2" height="1.4" fill="#7a8a88"/><rect x="73.0" y="577.4" width="1.7" height="2.5" fill="#556866"/><rect x="228.0" y="638.5" width="2.8" height="2.9" fill="#203a30"/><rect x="129.8" y="654.9" width="1.4" height="1.6" fill="#7a8a88"/><rect x="150.7" y="633.2" width="2.5" height="1.2" fill="#1d5a40"/><rect x="48.7" y="584.7" width="1.7" height="2.5" fill="#556866"/><rect x="218.2" y="639.8" width="1.6" height="1.2" fill="#556866"/><rect x="91.8" y="578.7" width="1.3" height="2.8" fill="#203a30"/><rect x="177.0" y="570.9" width="1.7" height="2.7" fill="#1d5a40"/><rect x="59.3" y="591.2" width="1.5" height="2.3" fill="#203a30"/><rect x="171.9" y="593.1" width="1.4" height="2.7" fill="#8e9c9a"/><rect x="68.6" y="580.6" width="2.6" height="1.0" fill="#7a8a88"/><rect x="104.2" y="597.2" width="1.8" height="2.0" fill="#1a2a24"/><rect x="164.3" y="677.9" width="2.2" height="2.7" fill="#556866"/><rect x="161.8" y="531.6" width="1.8" height="2.6" fill="#1d5a40"/><rect x="179.5" y="557.9" width="1.8" height="2.4" fill="#1d5a40"/><rect x="222.9" y="591.4" width="2.9" height="3.0" fill="#8e9c9a"/><rect x="136.2" y="553.9" width="1.3" height="1.7" fill="#1a2a24"/><rect x="85.9" y="597.1" width="1.1" height="1.8" fill="#1d5a40"/><rect x="144.1" y="566.2" width="2.5" height="1.7" fill="#8e9c9a"/><rect x="82.0" y="607.0" width="2.9" height="2.4" fill="#203a30"/><rect x="137.5" y="572.2" width="2.8" height="2.1" fill="#556866"/><rect x="175.4" y="565.6" width="2.1" height="2.5" fill="#7a8a88"/><rect x="101.2" y="630.7" width="1.1" height="1.0" fill="#8e9c9a"/><rect x="141.8" y="604.7" width="2.2" height="2.6" fill="#1a2a24"/><rect x="146.5" y="539.6" width="1.2" height="2.8" fill="#2d3a34"/><rect x="115.6" y="550.0" width="2.9" height="1.2" fill="#556866"/><rect x="163.0" y="655.4" width="1.7" height="1.8" fill="#556866"/><rect x="126.6" y="603.1" width="2.1" height="1.4" fill="#556866"/><rect x="131.8" y="578.2" width="2.6" height="2.0" fill="#7a8a88"/><rect x="214.0" y="565.5" width="2.7" height="2.3" fill="#1d5a40"/><rect x="235.3" y="619.2" width="2.1" height="2.8" fill="#a8b4b0"/><rect x="158.7" y="664.2" width="1.1" height="2.2" fill="#203a30"/><rect x="140.4" y="609.1" width="1.9" height="2.2" fill="#203a30"/><rect x="206.1" y="639.5" width="2.2" height="1.1" fill="#556866"/><rect x="116.1" y="608.0" width="2.1" height="2.7" fill="#2d3a34"/><rect x="105.9" y="571.4" width="1.0" height="2.5" fill="#556866"/><rect x="152.3" y="548.2" width="1.4" height="1.5" fill="#8e9c9a"/><rect x="150.5" y="547.3" width="3.0" height="2.3" fill="#556866"/><rect x="187.2" y="628.4" width="1.3" height="1.3" fill="#556866"/><rect x="86.0" y="604.4" width="2.9" height="1.7" fill="#1a2a24"/><rect x="80.5" y="566.4" width="2.0" height="2.1" fill="#8e9c9a"/><rect x="172.4" y="630.3" width="1.8" height="2.6" fill="#a8b4b0"/><rect x="106.1" y="580.9" width="2.8" height="1.5" fill="#203a30"/><rect x="220.5" y="577.5" width="1.2" height="2.3" fill="#7a8a88"/><rect x="134.0" y="626.1" width="2.4" height="1.5" fill="#1d5a40"/><rect x="117.9" y="570.4" width="1.7" height="3.0" fill="#1d5a40"/><rect x="161.4" y="539.9" width="1.8" height="1.5" fill="#1a2a24"/><rect x="258.4" y="610.7" width="2.3" height="2.4" fill="#a8b4b0"/><rect x="152.4" y="539.6" width="2.5" height="1.2" fill="#203a30"/><rect x="169.6" y="593.9" width="1.5" height="2.1" fill="#1d5a40"/><rect x="195.0" y="552.3" width="1.4" height="2.8" fill="#203a30"/><rect x="258.3" y="598.5" width="1.9" height="2.8" fill="#2d3a34"/><rect x="111.6" y="643.6" width="1.5" height="1.9" fill="#203a30"/><rect x="203.7" y="641.1" width="1.2" height="3.0" fill="#7a8a88"/><rect x="103.9" y="627.1" width="2.4" height="1.5" fill="#556866"/><rect x="178.0" y="563.8" width="1.7" height="1.1" fill="#203a30"/><rect x="177.4" y="601.0" width="2.7" height="2.7" fill="#2d3a34"/><rect x="112.7" y="607.9" width="1.6" height="1.7" fill="#7a8a88"/><rect x="112.9" y="554.5" width="2.9" height="1.1" fill="#556866"/><rect x="239.1" y="630.1" width="1.8" height="2.7" fill="#556866"/><rect x="124.1" y="641.6" width="2.0" height="2.4" fill="#1a2a24"/><rect x="83.7" y="603.1" width="1.0" height="2.6" fill="#556866"/><rect x="167.9" y="600.5" width="1.2" height="1.4" fill="#7a8a88"/><rect x="233.7" y="628.5" width="1.8" height="2.3" fill="#8e9c9a"/><rect x="93.9" y="561.2" width="1.1" height="2.9" fill="#a8b4b0"/><rect x="145.4" y="572.6" width="2.5" height="1.7" fill="#556866"/><rect x="223.7" y="640.7" width="2.8" height="2.1" fill="#1a2a24"/><rect x="71.8" y="597.2" width="1.9" height="2.6" fill="#556866"/><rect x="220.3" y="636.3" width="2.2" height="1.9" fill="#8e9c9a"/><rect x="62.8" y="578.1" width="1.2" height="1.7" fill="#203a30"/><rect x="86.6" y="587.1" width="1.1" height="1.1" fill="#8e9c9a"/><rect x="211.2" y="586.0" width="1.3" height="2.9" fill="#1d5a40"/><rect x="202.4" y="558.2" width="1.8" height="1.9" fill="#1d5a40"/><rect x="165.6" y="555.6" width="2.4" height="2.7" fill="#2d3a34"/><rect x="141.2" y="629.9" width="2.3" height="2.8" fill="#556866"/><rect x="212.1" y="555.8" width="2.2" height="2.4" fill="#1a2a24"/><rect x="91.0" y="609.4" width="2.7" height="1.7" fill="#203a30"/><rect x="206.7" y="593.1" width="2.6" height="2.3" fill="#7a8a88"/><rect x="143.3" y="540.0" width="1.0" height="2.1" fill="#a8b4b0"/><rect x="157.3" y="582.5" width="3.0" height="2.4" fill="#a8b4b0"/><rect x="227.9" y="596.1" width="2.8" height="2.2" fill="#1d5a40"/><rect x="86.2" y="592.1" width="1.9" height="2.6" fill="#8e9c9a"/><rect x="155.6" y="540.7" width="2.0" height="2.6" fill="#556866"/><rect x="97.2" y="630.8" width="2.2" height="1.2" fill="#a8b4b0"/><rect x="139.2" y="575.0" width="2.7" height="2.6" fill="#2d3a34"/><rect x="189.0" y="649.3" width="2.9" height="2.8" fill="#203a30"/><rect x="153.2" y="594.8" width="1.3" height="1.6" fill="#556866"/><rect x="163.7" y="665.7" width="2.7" height="2.2" fill="#203a30"/><rect x="69.5" y="579.0" width="2.9" height="1.2" fill="#a8b4b0"/><rect x="71.3" y="575.7" width="2.7" height="2.0" fill="#1a2a24"/><rect x="201.7" y="596.4" width="2.7" height="1.1" fill="#8e9c9a"/><rect x="151.0" y="667.1" width="2.1" height="2.0" fill="#203a30"/><rect x="237.5" y="615.3" width="1.9" height="2.3" fill="#1d5a40"/><rect x="62.2" y="575.3" width="1.1" height="2.6" fill="#1d5a40"/><rect x="183.1" y="618.7" width="1.4" height="1.9" fill="#2d3a34"/><rect x="188.4" y="569.1" width="2.3" height="1.1" fill="#556866"/><rect x="114.4" y="635.5" width="2.1" height="3.0" fill="#1d5a40"/><rect x="236.5" y="623.3" width="2.7" height="1.4" fill="#556866"/><rect x="67.8" y="593.9" width="1.5" height="2.8" fill="#a8b4b0"/><rect x="135.4" y="661.8" width="3.0" height="1.3" fill="#556866"/><rect x="128.0" y="552.3" width="3.0" height="1.0" fill="#1d5a40"/><rect x="118.7" y="554.6" width="1.3" height="2.8" fill="#556866"/><rect x="74.5" y="584.3" width="1.4" height="1.4" fill="#1d5a40"/><rect x="102.6" y="603.9" width="2.2" height="2.0" fill="#203a30"/><rect x="222.4" y="572.6" width="1.7" height="2.2" fill="#7a8a88"/><rect x="154.5" y="556.2" width="2.8" height="3.0" fill="#a8b4b0"/><rect x="172.8" y="585.1" width="2.1" height="1.6" fill="#1a2a24"/><rect x="102.0" y="622.5" width="1.0" height="2.4" fill="#1a2a24"/><rect x="180.7" y="575.2" width="1.8" height="1.6" fill="#8e9c9a"/><rect x="115.7" y="560.0" width="1.4" height="2.3" fill="#8e9c9a"/><rect x="111.1" y="641.4" width="1.4" height="2.8" fill="#203a30"/><rect x="183.7" y="622.6" width="2.7" height="2.2" fill="#8e9c9a"/><rect x="243.2" y="624.9" width="2.4" height="1.2" fill="#7a8a88"/><rect x="180.1" y="652.7" width="2.3" height="2.4" fill="#a8b4b0"/><rect x="175.1" y="676.1" width="3.0" height="1.0" fill="#1a2a24"/><rect x="173.4" y="621.1" width="2.3" height="1.6" fill="#2d3a34"/><rect x="183.7" y="577.6" width="1.4" height="2.1" fill="#8e9c9a"/><rect x="88.5" y="611.5" width="1.4" height="2.4" fill="#2d3a34"/><rect x="65.8" y="580.0" width="2.4" height="2.2" fill="#1a2a24"/><rect x="228.6" y="584.4" width="2.6" height="1.1" fill="#1d5a40"/><rect x="156.7" y="547.2" width="2.3" height="2.4" fill="#556866"/><rect x="182.0" y="555.6" width="2.5" height="1.5" fill="#7a8a88"/><rect x="130.4" y="622.9" width="2.2" height="2.3" fill="#1d5a40"/><rect x="206.5" y="637.9" width="2.4" height="1.5" fill="#1a2a24"/><rect x="141.4" y="600.7" width="2.7" height="1.4" fill="#556866"/><rect x="155.8" y="602.5" width="2.3" height="1.5" fill="#8e9c9a"/><rect x="120.5" y="638.7" width="2.9" height="1.2" fill="#556866"/><rect x="80.8" y="601.8" width="2.2" height="2.4" fill="#203a30"/><rect x="62.5" y="592.1" width="2.8" height="2.9" fill="#1a2a24"/><rect x="122.7" y="647.7" width="2.1" height="2.3" fill="#a8b4b0"/><rect x="158.6" y="602.9" width="2.3" height="2.1" fill="#1a2a24"/><rect x="93.6" y="611.8" width="1.5" height="2.9" fill="#8e9c9a"/><rect x="248.8" y="600.2" width="1.7" height="1.5" fill="#a8b4b0"/><rect x="145.7" y="574.0" width="2.6" height="1.5" fill="#2d3a34"/><rect x="127.4" y="563.5" width="1.6" height="2.3" fill="#556866"/><rect x="104.7" y="609.1" width="2.3" height="1.1" fill="#203a30"/><rect x="70.6" y="571.7" width="1.3" height="2.9" fill="#8e9c9a"/><rect x="208.5" y="642.4" width="2.6" height="1.0" fill="#2d3a34"/><rect x="173.5" y="545.5" width="2.4" height="2.3" fill="#a8b4b0"/><rect x="269.2" y="612.8" width="1.6" height="1.2" fill="#1d5a40"/><rect x="155.5" y="642.6" width="3.0" height="1.2" fill="#203a30"/><rect x="102.7" y="591.5" width="1.2" height="1.5" fill="#1d5a40"/><rect x="165.3" y="632.1" width="2.3" height="2.0" fill="#a8b4b0"/><rect x="152.9" y="613.9" width="2.8" height="2.8" fill="#2d3a34"/><rect x="156.2" y="534.1" width="1.2" height="2.8" fill="#2d3a34"/><rect x="100.1" y="606.8" width="2.7" height="1.3" fill="#a8b4b0"/><rect x="164.9" y="552.4" width="1.9" height="2.8" fill="#556866"/><rect x="176.4" y="662.9" width="1.9" height="1.3" fill="#a8b4b0"/><rect x="156.1" y="666.5" width="1.6" height="3.0" fill="#a8b4b0"/><rect x="197.7" y="581.3" width="2.2" height="3.0" fill="#8e9c9a"/><rect x="125.9" y="578.9" width="1.3" height="1.5" fill="#1d5a40"/><rect x="131.5" y="566.3" width="1.8" height="2.9" fill="#7a8a88"/><rect x="213.6" y="645.0" width="2.2" height="2.0" fill="#203a30"/><rect x="143.9" y="554.5" width="1.4" height="1.2" fill="#1a2a24"/><rect x="132.7" y="574.0" width="1.5" height="1.3" fill="#a8b4b0"/><rect x="158.3" y="550.6" width="2.8" height="2.9" fill="#1a2a24"/><rect x="217.7" y="576.2" width="1.2" height="2.0" fill="#2d3a34"/><rect x="121.6" y="636.0" width="2.5" height="1.3" fill="#8e9c9a"/><rect x="187.3" y="618.5" width="2.6" height="2.4" fill="#8e9c9a"/><rect x="163.1" y="637.6" width="2.1" height="2.4" fill="#1a2a24"/><rect x="173.3" y="675.7" width="2.4" height="2.8" fill="#203a30"/><rect x="205.0" y="558.5" width="3.0" height="1.4" fill="#a8b4b0"/><rect x="184.6" y="638.0" width="1.3" height="2.7" fill="#2d3a34"/><rect x="149.8" y="639.3" width="1.6" height="1.1" fill="#2d3a34"/><rect x="173.9" y="629.2" width="1.5" height="1.2" fill="#203a30"/><rect x="139.3" y="627.7" width="1.2" height="1.7" fill="#7a8a88"/><rect x="159.2" y="591.3" width="1.9" height="1.7" fill="#2d3a34"/><rect x="165.9" y="644.3" width="2.1" height="2.2" fill="#203a30"/><rect x="159.2" y="669.5" width="1.1" height="1.6" fill="#8e9c9a"/><rect x="219.1" y="585.7" width="1.3" height="2.5" fill="#8e9c9a"/><rect x="251.6" y="594.3" width="1.2" height="2.5" fill="#203a30"/><rect x="180.2" y="651.0" width="2.2" height="3.0" fill="#8e9c9a"/><rect x="178.3" y="667.6" width="2.0" height="2.0" fill="#203a30"/><rect x="99.6" y="611.8" width="2.2" height="2.8" fill="#556866"/><rect x="241.3" y="625.2" width="1.3" height="1.1" fill="#1a2a24"/><rect x="180.1" y="597.2" width="2.0" height="1.8" fill="#8e9c9a"/><rect x="121.1" y="579.9" width="2.5" height="2.4" fill="#1d5a40"/><rect x="198.3" y="639.5" width="1.9" height="1.3" fill="#a8b4b0"/><rect x="135.3" y="543.2" width="2.4" height="1.1" fill="#7a8a88"/><rect x="235.2" y="584.9" width="2.2" height="1.4" fill="#8e9c9a"/><rect x="55.9" y="590.0" width="2.6" height="1.8" fill="#a8b4b0"/><rect x="262.3" y="618.7" width="1.3" height="1.4" fill="#8e9c9a"/><rect x="131.8" y="564.7" width="2.0" height="1.1" fill="#203a30"/><rect x="199.3" y="574.4" width="2.2" height="2.1" fill="#203a30"/><rect x="248.3" y="621.7" width="2.7" height="2.4" fill="#1d5a40"/><rect x="119.6" y="558.9" width="2.9" height="2.1" fill="#8e9c9a"/><rect x="86.9" y="610.0" width="2.4" height="1.5" fill="#8e9c9a"/><rect x="129.1" y="658.4" width="3.0" height="2.4" fill="#7a8a88"/><rect x="218.9" y="640.4" width="2.0" height="2.6" fill="#1a2a24"/><rect x="165.1" y="570.1" width="1.5" height="1.3" fill="#203a30"/><rect x="213.4" y="581.6" width="1.1" height="1.9" fill="#8e9c9a"/><rect x="195.6" y="663.4" width="2.6" height="1.5" fill="#7a8a88"/><rect x="169.2" y="564.9" width="2.5" height="1.7" fill="#8e9c9a"/><rect x="206.5" y="592.5" width="1.1" height="1.5" fill="#1d5a40"/><rect x="120.5" y="605.4" width="2.7" height="1.2" fill="#a8b4b0"/><rect x="225.0" y="597.6" width="2.0" height="2.9" fill="#203a30"/><rect x="182.0" y="572.8" width="2.3" height="2.0" fill="#8e9c9a"/><rect x="64.3" y="577.9" width="2.7" height="2.1" fill="#2d3a34"/><rect x="221.6" y="565.0" width="2.9" height="1.2" fill="#203a30"/><rect x="85.4" y="623.4" width="1.3" height="2.7" fill="#2d3a34"/><rect x="210.6" y="641.4" width="1.5" height="1.8" fill="#1d5a40"/><rect x="147.1" y="562.7" width="2.9" height="2.8" fill="#7a8a88"/><rect x="95.2" y="616.6" width="2.6" height="1.5" fill="#8e9c9a"/><rect x="126.8" y="657.0" width="1.8" height="1.3" fill="#a8b4b0"/><rect x="65.8" y="576.9" width="2.3" height="2.6" fill="#1d5a40"/><rect x="62.5" y="576.8" width="1.3" height="2.8" fill="#556866"/><rect x="171.8" y="571.3" width="1.9" height="1.8" fill="#a8b4b0"/><rect x="168.5" y="614.0" width="2.3" height="1.5" fill="#8e9c9a"/><rect x="205.3" y="551.9" width="1.8" height="2.3" fill="#8e9c9a"/><rect x="166.0" y="663.4" width="1.3" height="2.6" fill="#8e9c9a"/><rect x="190.3" y="564.2" width="2.7" height="2.8" fill="#556866"/><rect x="208.2" y="594.3" width="2.3" height="2.9" fill="#556866"/><rect x="151.0" y="617.9" width="2.4" height="1.6" fill="#203a30"/><rect x="143.9" y="598.0" width="1.5" height="2.5" fill="#556866"/><rect x="144.3" y="602.5" width="1.8" height="1.9" fill="#a8b4b0"/><rect x="184.1" y="618.1" width="1.9" height="2.1" fill="#8e9c9a"/><rect x="152.5" y="611.8" width="2.7" height="2.3" fill="#556866"/><rect x="135.8" y="552.6" width="2.6" height="2.2" fill="#8e9c9a"/><rect x="166.7" y="535.1" width="2.9" height="2.3" fill="#1d5a40"/><rect x="170.4" y="569.2" width="2.1" height="2.9" fill="#a8b4b0"/><rect x="107.4" y="633.7" width="2.2" height="1.7" fill="#1a2a24"/><rect x="132.2" y="649.6" width="1.8" height="2.6" fill="#2d3a34"/><rect x="118.1" y="545.6" width="3.0" height="1.7" fill="#8e9c9a"/><rect x="123.6" y="587.1" width="1.5" height="2.1" fill="#556866"/><rect x="194.9" y="632.4" width="2.6" height="2.4" fill="#2d3a34"/><rect x="144.1" y="630.5" width="1.1" height="1.2" fill="#a8b4b0"/><rect x="163.9" y="586.3" width="2.7" height="1.3" fill="#2d3a34"/><rect x="181.7" y="593.6" width="2.1" height="1.6" fill="#a8b4b0"/><rect x="133.3" y="653.2" width="1.7" height="1.0" fill="#8e9c9a"/><rect x="115.8" y="585.4" width="2.5" height="1.6" fill="#556866"/><rect x="176.1" y="641.0" width="2.4" height="1.5" fill="#556866"/><rect x="203.6" y="558.7" width="2.9" height="2.9" fill="#7a8a88"/><rect x="184.7" y="644.7" width="2.1" height="1.4" fill="#a8b4b0"/><rect x="168.5" y="591.9" width="1.4" height="2.8" fill="#7a8a88"/><rect x="158.2" y="596.9" width="2.3" height="2.2" fill="#556866"/><rect x="116.3" y="627.1" width="1.1" height="1.0" fill="#203a30"/><rect x="209.0" y="555.0" width="2.0" height="1.5" fill="#8e9c9a"/><rect x="92.1" y="576.7" width="1.4" height="1.9" fill="#a8b4b0"/><rect x="206.9" y="580.5" width="2.2" height="1.3" fill="#8e9c9a"/><rect x="174.1" y="615.9" width="1.0" height="1.5" fill="#1d5a40"/><rect x="207.3" y="646.6" width="1.3" height="2.2" fill="#8e9c9a"/><rect x="190.2" y="592.2" width="1.8" height="2.9" fill="#556866"/><rect x="192.0" y="578.7" width="2.4" height="1.5" fill="#2d3a34"/><rect x="173.2" y="617.8" width="1.1" height="2.8" fill="#a8b4b0"/><rect x="113.7" y="640.0" width="1.2" height="2.1" fill="#a8b4b0"/><rect x="90.0" y="604.6" width="2.8" height="2.5" fill="#1a2a24"/><rect x="142.0" y="542.5" width="1.9" height="2.0" fill="#1a2a24"/><rect x="187.3" y="628.0" width="1.1" height="1.7" fill="#7a8a88"/><rect x="184.8" y="580.6" width="2.1" height="2.6" fill="#a8b4b0"/><rect x="83.0" y="592.4" width="1.4" height="2.7" fill="#556866"/><rect x="105.4" y="596.3" width="2.2" height="1.8" fill="#2d3a34"/><rect x="108.6" y="557.4" width="1.8" height="2.0" fill="#1a2a24"/><rect x="179.6" y="599.8" width="2.3" height="2.2" fill="#1d5a40"/><rect x="224.9" y="634.8" width="2.1" height="2.0" fill="#2d3a34"/><rect x="126.0" y="626.4" width="1.4" height="2.0" fill="#556866"/><rect x="110.5" y="626.1" width="3.0" height="1.8" fill="#203a30"/><rect x="90.5" y="574.3" width="1.3" height="2.8" fill="#8e9c9a"/><rect x="202.0" y="582.0" width="2.3" height="2.6" fill="#1a2a24"/><rect x="166.7" y="612.8" width="2.0" height="2.6" fill="#1d5a40"/><rect x="57.3" y="599.2" width="1.1" height="2.3" fill="#556866"/><rect x="208.3" y="583.2" width="2.5" height="2.7" fill="#8e9c9a"/><rect x="69.8" y="611.1" width="1.3" height="2.8" fill="#556866"/><rect x="126.3" y="653.4" width="1.2" height="1.4" fill="#7a8a88"/><rect x="153.2" y="535.9" width="1.9" height="1.7" fill="#8e9c9a"/><rect x="201.1" y="553.7" width="1.5" height="1.4" fill="#8e9c9a"/><rect x="133.2" y="622.9" width="2.5" height="1.9" fill="#7a8a88"/><rect x="150.8" y="645.6" width="1.4" height="2.9" fill="#203a30"/><rect x="234.8" y="592.4" width="2.0" height="2.7" fill="#1d5a40"/><rect x="137.5" y="553.6" width="2.5" height="1.6" fill="#2d3a34"/><rect x="164.0" y="574.2" width="2.5" height="2.4" fill="#556866"/><rect x="72.8" y="611.2" width="2.2" height="1.2" fill="#203a30"/><rect x="186.9" y="623.9" width="1.2" height="2.5" fill="#1a2a24"/><rect x="209.7" y="565.0" width="2.4" height="2.0" fill="#7a8a88"/><rect x="171.9" y="569.0" width="2.6" height="1.9" fill="#1a2a24"/><rect x="257.3" y="615.4" width="1.2" height="1.7" fill="#2d3a34"/><rect x="174.8" y="568.4" width="1.8" height="1.1" fill="#1d5a40"/><rect x="67.4" y="577.6" width="2.7" height="1.1" fill="#1a2a24"/><rect x="127.4" y="581.2" width="2.6" height="2.1" fill="#203a30"/><rect x="77.2" y="569.7" width="2.2" height="2.8" fill="#1d5a40"/><rect x="129.8" y="541.0" width="1.1" height="1.7" fill="#203a30"/><rect x="212.9" y="595.2" width="2.6" height="1.1" fill="#556866"/><rect x="179.9" y="619.7" width="2.9" height="1.1" fill="#7a8a88"/><rect x="111.8" y="642.9" width="2.0" height="1.5" fill="#556866"/><rect x="226.5" y="585.4" width="1.9" height="2.1" fill="#8e9c9a"/><rect x="170.7" y="607.5" width="1.1" height="1.4" fill="#8e9c9a"/><rect x="174.0" y="586.4" width="1.1" height="1.2" fill="#1a2a24"/><rect x="137.4" y="659.3" width="2.5" height="2.8" fill="#a8b4b0"/><rect x="171.5" y="540.0" width="2.9" height="1.8" fill="#1a2a24"/><rect x="228.1" y="570.2" width="2.1" height="1.3" fill="#7a8a88"/><rect x="127.8" y="599.0" width="2.4" height="3.0" fill="#8e9c9a"/><rect x="142.5" y="562.8" width="1.5" height="1.7" fill="#7a8a88"/><rect x="226.4" y="565.5" width="1.1" height="1.0" fill="#a8b4b0"/><rect x="227.4" y="576.5" width="1.7" height="2.8" fill="#2d3a34"/><rect x="120.8" y="547.0" width="2.5" height="1.6" fill="#203a30"/><rect x="141.8" y="668.6" width="1.1" height="2.8" fill="#556866"/><rect x="148.3" y="618.2" width="2.7" height="1.4" fill="#7a8a88"/><rect x="202.3" y="560.5" width="1.6" height="1.3" fill="#1a2a24"/><rect x="174.3" y="638.4" width="1.6" height="1.0" fill="#1a2a24"/></g>
<polygon points="200,548 216,556 224,563 216,568 200,560" fill="#7a6a40" opacity="0.8"/>


<g fill="#c3c9c4" stroke="#445" stroke-width="0.4">
<ellipse cx="133" cy="568" rx="4" ry="3"/><ellipse cx="182" cy="572" rx="3.5" ry="2.8"/><ellipse cx="165" cy="582" rx="3.5" ry="2.8"/><ellipse cx="175" cy="588" rx="3.5" ry="2.8"/><ellipse cx="155" cy="590" rx="3.5" ry="2.8"/><ellipse cx="163" cy="596" rx="3.5" ry="2.8"/><ellipse cx="212" cy="580" rx="4" ry="3"/><ellipse cx="193" cy="585" rx="3" ry="2.5"/><ellipse cx="143" cy="603" rx="3" ry="2.5"/><ellipse cx="122" cy="636" rx="3" ry="2.5"/>
</g>
<polygon points="193,606 220,600 232,618 205,630" fill="#1d2f45"/>
<ellipse cx="210" cy="617" rx="11" ry="8" fill="#c9cdd0" stroke="#556" stroke-width="0.6"/>
<polygon points="157,633 178,628 196,648 175,654" fill="#dfe3df"/>
<polygon points="55,595 75,588 78,592 58,600" fill="#b8c0bc" opacity="0.8"/>
<polygon points="160,657 180,650 185,660 165,667" fill="#1f2f2a" opacity="0.8"/>
<circle cx="160" cy="675" r="2" fill="#b09060" stroke="#222" stroke-width="0.5"/>
<circle cx="73" cy="567" r="2.5" fill="#aaa" stroke="#222" stroke-width="0.6"/>
<circle cx="163" cy="522" r="2.5" fill="#aaa" stroke="#222" stroke-width="0.6"/>
</g>

<!-- screws -->
<defs>
<g id="sv"><path d="M-2.6,-9 Q0,-11.5 2.6,-9 L2.6,-4.5 Q6.2,-3.5 6.2,0.5 Q6.2,5.5 0,5.8 Q-6.2,5.5 -6.2,0.5 Q-6.2,-3.5 -2.6,-4.5 Z" fill="#111"/><path d="M0,-8 L0,2 M-2.5,1 Q0,3.5 2.5,1" stroke="#c8c8c8" stroke-width="1" fill="none"/></g>
<g id="sh"><circle cx="-1.5" cy="0" r="5.8" fill="#111"/><path d="M1,-4.2 L8.5,-3.6 Q10.6,0 8.5,3.6 L1,4.2 Z" fill="#111"/><circle cx="-1.5" cy="0" r="3.8" fill="#dcdcdc"/><path d="M2.5,0 L8,0" stroke="#e0e0e0" stroke-width="3"/></g>
</defs>
<use href="#sv" x="406" y="467"/>
<use href="#sv" x="465.6" y="540"/>
<use href="#sv" x="511.5" y="511"/>
<use href="#sv" x="526.5" y="579"/>
<use href="#sv" x="572.2" y="548"/>
<use href="#sh" transform="translate(308,202) rotate(28)"/>
<use href="#sh" transform="translate(315,286) rotate(28)"/>
<use href="#sh" transform="translate(124,362) rotate(-22)"/>
<use href="#sh" transform="translate(244,445.5) rotate(-22)"/>
<use href="#sh" transform="translate(226,536) rotate(-25)"/>
<use href="#sh" transform="translate(314,600) rotate(-30)"/>
<use href="#sh" transform="translate(782.5,30.5) rotate(156) scale(0.95)"/>
<use href="#sh" transform="translate(908,76) rotate(156) scale(0.95)"/>
<use href="#sh" transform="translate(884.5,249) rotate(156) scale(0.95)"/>
<!-- small cable (5) -->
<g fill="none" stroke-linecap="round">
<path d="M188,696 C195,704 205,703 212,699 C216,697 219,697 222,694" stroke="#111" stroke-width="4"/>
<path d="M188,696 C195,704 205,703 212,699 C216,697 219,697 222,694" stroke="#d33" stroke-width="2.4"/>
</g>
<polygon points="183,691 191,688 195,694 187,698" fill="#f4f4f4" stroke="#111" stroke-width="1"/>
<polygon points="216,690 224,686 227,693 220,697" fill="#f4f4f4" stroke="#111" stroke-width="1"/>
<!-- SD card -->
<polygon points="445.6,620.3 450,620.8 474.6,639.4 477.5,644 477.6,658 474,658 447,638.5" fill="#9a9e88" stroke="#111" stroke-width="1.6" stroke-linejoin="round"/>
<polygon points="449.3,625.5 467.3,638 467.3,651.5 449.3,639" fill="#17287a"/>
<polygon points="467.3,638 474.5,643.5 474.5,654 467.3,651.5" fill="#b9c4c6"/>

<!-- CALLOUTS -->
<g id="callouts" stroke="#1890d8" stroke-width="2.2" fill="none" stroke-linecap="round">
<line x1="590" y1="45" x2="197" y2="171"/>
<line x1="594" y1="52" x2="328" y2="358"/>
<line x1="606" y1="55" x2="715" y2="443"/>
<line x1="938" y1="46" x2="774" y2="111"/>
<line x1="576" y1="678" x2="523" y2="365"/>
<line x1="385" y1="686" x2="457.8" y2="639.4"/>
<line x1="70" y1="459.5" x2="291" y2="459.5"/>
<line x1="66" y1="682" x2="142" y2="605"/>
<line x1="70" y1="697" x2="183" y2="697"/>
</g>
<g fill="#1890d8">
<circle cx="601.5" cy="41" r="16.8"/>
<circle cx="953" cy="41.8" r="17"/>
<circle cx="579" cy="694.3" r="17"/>
<circle cx="370" cy="693.6" r="17"/>
<circle cx="53.5" cy="693.4" r="17"/>
<circle cx="53.7" cy="459.5" r="16.8"/>
</g>
<path d="M595.3,36.6 L600.8,32.2 L604.2,32.2 L604.2,52.4 L600.6,52.4 L600.6,37.6 L597,40 Z" fill="#fff"/>
<g class="num">
<text x="953" y="52">2</text>
<text x="579" y="705">3</text>
<text x="370" y="704">4</text>
<text x="54" y="704">5</text>
<text x="54" y="470">6</text>
</g>
</svg>
</body></html>
